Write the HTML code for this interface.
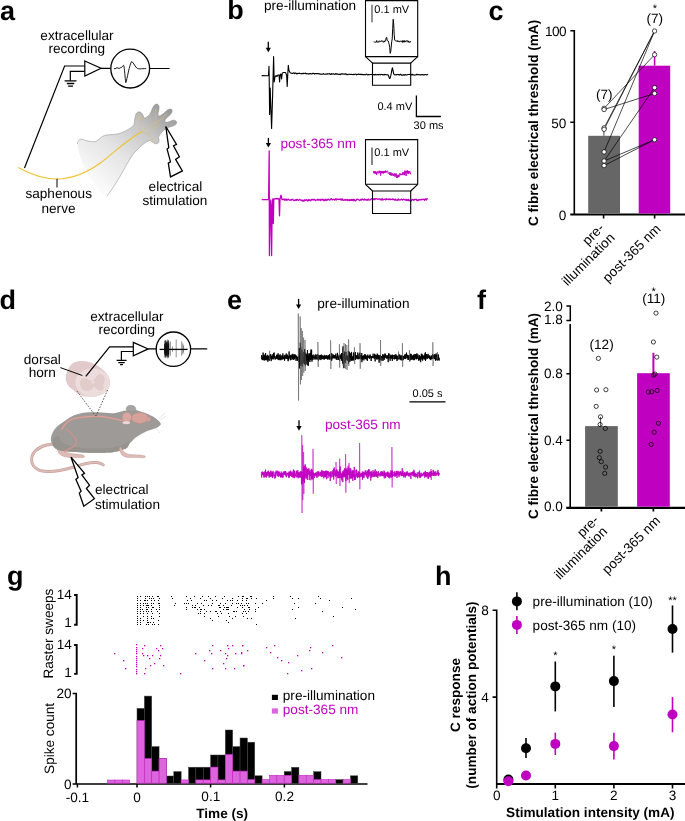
<!DOCTYPE html>
<html><head><meta charset="utf-8"><style>
html,body{margin:0;padding:0;background:#fff;}
body{width:685px;height:821px;overflow:hidden;}
svg{display:block;font-family:"Liberation Sans",sans-serif;-webkit-font-smoothing:antialiased;will-change:transform;text-rendering:geometricPrecision;}
</style></head><body>
<svg width="685" height="821" viewBox="0 0 685 821">
<text x="0.00" y="20.00" font-size="27" text-anchor="start" font-weight="bold" fill="#000" >a</text>
<text x="77.00" y="40.00" font-size="13.6" text-anchor="middle" font-weight="normal" fill="#000" >extracellular</text>
<text x="76.80" y="53.10" font-size="13.6" text-anchor="middle" font-weight="normal" fill="#000" >recording</text>
<defs>
<linearGradient id="lg" x1="100" y1="192" x2="168" y2="110" gradientUnits="userSpaceOnUse">
<stop offset="0" stop-color="#fcfcfc"/><stop offset="0.4" stop-color="#e4e4e4"/><stop offset="0.72" stop-color="#c6c6c6"/><stop offset="1" stop-color="#9a9a9a"/></linearGradient>
<linearGradient id="lg2" x1="85" y1="150" x2="110" y2="190" gradientUnits="userSpaceOnUse">
<stop offset="0" stop-color="#ffffff" stop-opacity="0"/><stop offset="1" stop-color="#ffffff" stop-opacity="0.9"/></linearGradient>
</defs>
<path d="M77.4,144 C78,140 80,138.5 83,139.5 C87,141 92,142.5 96,141.5 C99,139.5 101,136.5 106,135 C110,134.5 116,135 121.3,132.8 C126,131 130,128.7 133.8,125.2 C135,121 134.5,117 136,114 C137.5,111.5 140,111 142,113.5 C143.5,115.5 143.5,117.5 144.5,118 C146.5,117.8 149.5,115.5 151,112 C152.5,108 153.5,105 156,104.1 C158.5,103.8 159.5,106 159,109 C158.5,112 157.5,114.5 158.5,116 C160.5,116.5 164,113 166.2,111.1 C168,109.5 170,108.3 171.7,109.5 C173,111 171.5,113.5 170,115 C168,117 165,119 164.8,121 C165.5,123 168,122.5 172.3,120.3 C174.5,119.8 176.5,120.5 176.7,122.5 C176.8,124.5 174.5,125.5 172,126.3 C169,127.2 166.5,127.8 164,130 C161.5,132.5 159,135 158.5,137.5 C159.2,140 159.5,142.5 157.5,143.6 C155,144.5 152,142 150.4,140.5 C147,141 143,144 138,149 C133,153 128,162 123.4,170.6 C119,178 112,190 107,196 C100,194 93,183 88,174 C83,165 79,156 77.4,144 Z" stroke="none" stroke-width="1" fill="url(#lg)" />
<path d="M77.4,144 C78,140 80,138.5 83,139.5 C87,141 92,142.5 96,141.5 C99,139.5 101,136.5 106,135 C110,134.5 116,135 121.3,132.8 C126,131 130,128.7 133.8,125.2 C135,121 134.5,117 136,114 C137.5,111.5 140,111 142,113.5 C143.5,115.5 143.5,117.5 144.5,118 C146.5,117.8 149.5,115.5 151,112 C152.5,108 153.5,105 156,104.1 C158.5,103.8 159.5,106 159,109 C158.5,112 157.5,114.5 158.5,116 C160.5,116.5 164,113 166.2,111.1 C168,109.5 170,108.3 171.7,109.5 C173,111 171.5,113.5 170,115 C168,117 165,119 164.8,121 C165.5,123 168,122.5 172.3,120.3 C174.5,119.8 176.5,120.5 176.7,122.5 C176.8,124.5 174.5,125.5 172,126.3 C169,127.2 166.5,127.8 164,130 C161.5,132.5 159,135 158.5,137.5 C159.2,140 159.5,142.5 157.5,143.6 C155,144.5 152,142 150.4,140.5 C147,141 143,144 138,149 C133,153 128,162 123.4,170.6 C119,178 112,190 107,196" stroke="#8a8a8a" stroke-width="0.5" fill="none" />
<path d="M18.2,167.5 C30,174 45,179 57,179 C72,179 88,172 101,162.5 C110,156 116,150 121.3,146 C128,140.5 135,136 140.8,131.7" stroke="#eec232" stroke-width="1.1" fill="none" />
<path d="M140.8,131.7 C139.5,126 139.5,120 139,114.6" stroke="#dcc070" stroke-width="0.6" fill="none" />
<path d="M139.6,121 L141.5,116.5" stroke="#dcc070" stroke-width="0.6" fill="none" />
<path d="M140.8,131.7 C146,128 151,125 155.7,123.4 C160,121 163,117 167,113.8" stroke="#dcc070" stroke-width="0.6" fill="none" />
<path d="M155.7,123.4 C156,118 155.5,113 155.7,109.4" stroke="#dcc070" stroke-width="0.6" fill="none" />
<path d="M140.8,131.7 C143,132.5 146,133 148.6,133.9 C151,136.5 153,139 154.8,141.8" stroke="#dcc070" stroke-width="0.6" fill="none" />
<path d="M148.6,133.9 C152,130 156,127 160,124.3" stroke="#dcc070" stroke-width="0.6" fill="none" />
<path d="M153,139.3 L151.5,141.5" stroke="#dcc070" stroke-width="0.6" fill="none" />
<path d="M24.5,168 L64.6,66 L84.8,66" stroke="#000" stroke-width="1.2" fill="none" />
<path d="M84.8,71.4 H70.3 V80.8" stroke="#000" stroke-width="1.2" fill="none" />
<path d="M64.6,80.8 H76.5 M66.8,83.5 H74.3 M68.1,86.1 H73" stroke="#000" stroke-width="1.3" fill="none" />
<path d="M84.8,61 L101,68.3 L84.8,76 Z" stroke="#000" stroke-width="1.2" fill="#fff" />
<path d="M101,68.3 H110.6 M150,68.5 H169.6" stroke="#000" stroke-width="1.2" fill="none" />
<circle cx="130.2" cy="68.6" r="19.4" stroke="#000" stroke-width="1.3" fill="#fff"/>
<path d="M114,68.5 C115.5,70 116.5,66.5 118,68 C119.5,69.5 120.5,67 121.5,67.5 C122.5,66.5 123,64.8 123.8,65.5 C124.5,68 125,78 125.8,82.6 C127,80 129.5,64 131.6,61.6 C133,62 134.5,65.5 136.7,68 C138.5,69.5 141,68.5 146.2,68.6" stroke="#000" stroke-width="0.9" fill="none" />
<path d="M57,178.8 V187.5" stroke="#000" stroke-width="1" fill="none" />
<text x="58.70" y="198.00" font-size="13.6" text-anchor="middle" font-weight="normal" fill="#000" >saphenous</text>
<text x="58.50" y="212.70" font-size="13.6" text-anchor="middle" font-weight="normal" fill="#000" >nerve</text>
<path d="M165.8,126.5 L176.5,144.4 L173.5,145.7 L179.4,156.8 L175.6,159.4 L182.4,170.9 L170.5,176.9 L168.3,163.2 L170.5,161.9 L167.1,149.1 L168.8,147.8 Z" stroke="#000" stroke-width="1.3" fill="#fff" stroke-linejoin="miter"/>
<text x="175.40" y="191.00" font-size="13.6" text-anchor="middle" font-weight="normal" fill="#000" >electrical</text>
<text x="174.90" y="205.00" font-size="13.6" text-anchor="middle" font-weight="normal" fill="#000" >stimulation</text>
<text x="227.30" y="19.00" font-size="27" text-anchor="start" font-weight="bold" fill="#000" >b</text>
<text x="264.00" y="9.90" font-size="13.6" text-anchor="start" font-weight="normal" fill="#000" >pre-illumination</text>
<path d="M268.3,41.8 V49.3" stroke="#000" stroke-width="1.3" fill="none" />
<path d="M265.7,47.699999999999996 L270.90000000000003,47.699999999999996 L268.3,52.3 Z" stroke="none" stroke-width="1" fill="#000" />
<path d="M261.70,75.60 L267.80,75.80 L268.50,75.00 L269.00,66.30 L269.30,86.00 L269.60,114.50 L270.20,88.00 L271.60,128.50 L272.60,96.00 L273.60,56.60 L274.20,82.00 L275.00,77.00 L276.00,75.50 L277.00,76.50 L278.00,75.00 L279.00,75.00 L279.60,82.00 L280.20,74.50 L281.00,74.00 L281.60,79.00 L282.20,73.50 L283.00,72.50 L285.50,72.50 L286.60,75.00 L287.20,86.40 L287.80,74.00 L288.30,65.40 L289.00,70.50 L290.00,72.40 L290.50,73.02 L291.10,73.31 L291.70,73.16 L292.30,73.38 L292.90,73.41 L293.50,72.92 L294.10,72.88 L294.70,73.63 L295.30,73.12 L295.90,73.11 L296.50,73.81 L297.10,73.35 L297.70,73.69 L298.30,73.37 L298.90,73.53 L299.50,73.10 L300.10,73.55 L300.70,73.77 L301.30,73.47 L301.90,73.67 L302.50,73.62 L303.10,73.09 L303.70,73.72 L304.30,73.58 L304.90,73.33 L305.50,73.10 L306.10,73.86 L306.70,73.52 L307.30,73.75 L307.90,73.90 L308.50,73.77 L309.10,73.96 L309.70,73.50 L310.30,73.88 L310.90,73.57 L311.50,74.02 L312.10,73.98 L312.70,73.29 L313.30,73.33 L313.90,73.42 L314.50,74.10 L315.10,73.63 L315.70,73.82 L316.30,73.53 L316.90,73.73 L317.50,73.63 L318.10,73.61 L318.70,73.83 L319.30,73.84 L319.90,74.14 L320.50,73.95 L321.10,74.18 L321.70,74.13 L322.30,74.26 L322.90,73.98 L323.50,73.54 L324.10,74.18 L324.70,74.28 L325.30,74.24 L325.90,73.95 L326.50,74.09 L327.10,73.64 L327.70,74.21 L328.30,73.99 L328.90,73.74 L329.50,73.55 L330.10,74.28 L330.70,74.41 L331.30,73.61 L331.90,74.26 L332.50,73.92 L333.10,73.70 L333.70,73.84 L334.30,74.27 L334.90,74.38 L335.50,73.64 L336.10,74.17 L336.70,73.66 L337.30,74.28 L337.90,73.94 L338.50,74.45 L339.10,74.55 L339.70,74.13 L340.30,74.59 L340.90,73.98 L341.50,73.78 L342.10,74.26 L342.70,73.76 L343.30,73.92 L343.90,74.12 L344.50,74.31 L345.10,73.91 L345.70,73.82 L346.30,74.58 L346.90,74.09 L347.50,74.68 L348.10,74.63 L348.70,74.18 L349.30,74.26 L349.90,74.33 L350.50,74.45 L351.10,74.42 L351.70,74.39 L352.30,74.46 L352.90,74.76 L353.50,74.38 L354.10,74.32 L354.70,74.59 L355.30,74.17 L355.90,74.24 L356.50,74.86 L357.10,74.45 L357.70,74.49 L358.30,74.02 L358.90,74.39 L359.50,74.55 L360.10,74.06 L360.70,74.60 L361.30,74.63 L361.90,74.13 L362.50,74.65 L363.10,74.51 L363.70,74.71 L364.30,74.43 L364.90,74.76 L365.50,74.80 L366.10,74.17 L366.70,74.21 L367.30,74.78 L367.90,75.04 L368.50,74.41 L369.10,74.61 L369.70,74.74 L370.30,74.51 L370.90,74.56 L371.50,74.52 L372.10,74.58 L372.70,74.79 L373.30,74.52 L373.90,74.59 L374.50,74.95 L375.10,74.27 L375.70,74.76 L376.30,74.91 L376.90,74.53 L377.50,74.45 L378.10,74.97 L378.70,74.46 L379.30,74.42 L379.90,74.64 L380.50,74.88 L381.10,74.34 L381.70,74.54 L382.30,74.55 L382.90,75.00 L383.50,74.64 L384.10,75.02 L384.70,74.40 L385.30,74.55 L385.90,74.84 L386.50,74.70 L387.10,74.70 L387.70,74.77 L388.30,75.26 L388.90,76.81 L389.50,78.54 L390.10,78.10 L390.70,75.97 L391.30,73.44 L391.90,69.59 L392.50,67.79 L393.10,70.88 L393.70,73.83 L394.30,74.62 L394.90,74.70 L395.50,74.70 L396.10,74.96 L396.70,74.49 L397.30,74.56 L397.90,74.63 L398.50,74.63 L399.10,74.62 L399.70,75.08 L400.30,74.39 L400.90,74.25 L401.50,75.10 L402.10,75.04 L402.70,75.14 L403.30,74.64 L403.90,75.11 L404.50,75.08 L405.10,74.45 L405.70,74.92 L406.30,75.00 L406.90,74.85 L407.50,74.72 L408.10,74.51 L408.70,74.56 L409.30,74.45 L409.90,74.31 L410.50,74.78 L411.10,74.51 L411.70,74.98 L412.30,74.29 L412.90,75.06 L413.50,74.87 L414.10,75.08 L414.70,75.06 L415.30,75.06 L415.90,74.77 L416.50,74.26 L417.10,74.92 L417.70,74.40 L418.30,74.52 L418.90,74.85 L419.50,74.72 L420.10,74.62 L420.70,75.10 L421.30,74.80 L421.90,74.56 L422.50,74.48 L423.10,75.03 L423.70,74.68 L424.30,74.95 L424.90,74.57 L425.50,74.43 L426.10,74.73 L426.70,74.99 L427.30,74.40 L427.90,74.96" stroke="#000" stroke-width="1.1" fill="none" stroke-linejoin="round"/>
<path d="M365.5,0.6 H417.7 V56.6 H365.5 Z" stroke="#000" stroke-width="1.1" fill="none" />
<path d="M365.5,56.6 L372.5,63.1 M417.7,56.6 L410.7,63.1" stroke="#000" stroke-width="1.1" fill="none" />
<path d="M372.5,63.1 H410.7 V85.3 H372.5 Z" stroke="#000" stroke-width="1.1" fill="none" />
<path d="M372,4.7 V22.2" stroke="#666" stroke-width="1.4" fill="none" />
<text x="374.30" y="12.80" font-size="11" text-anchor="start" font-weight="normal" fill="#000" >0.1 mV</text>
<path d="M373.70,41.75 L374.20,41.98 L374.70,42.09 L375.20,42.38 L375.70,41.98 L376.20,42.34 L376.70,40.56 L377.20,41.43 L377.70,42.39 L378.20,41.80 L378.70,42.30 L379.20,40.73 L379.70,41.44 L380.20,40.99 L380.70,41.59 L381.20,41.65 L381.70,40.53 L382.20,40.93 L382.70,41.06 L383.20,42.33 L383.70,42.03 L384.20,40.82 L384.70,42.07 L385.20,40.53 L385.70,40.45 L386.20,37.71 L386.70,37.22 L387.20,40.62 L387.70,40.55 L388.20,40.92 L388.70,42.79 L389.20,44.19 L389.70,47.36 L390.20,53.37 L390.70,51.87 L391.20,47.05 L391.70,41.91 L392.20,39.04 L392.70,28.51 L393.20,19.30 L393.70,23.99 L394.20,34.47 L394.70,40.12 L395.20,40.75 L395.70,40.79 L396.20,40.63 L396.70,41.10 L397.20,41.71 L397.70,40.51 L398.20,41.86 L398.70,41.18 L399.20,41.12 L399.70,42.14 L400.20,41.46 L400.70,41.13 L401.20,41.46 L401.70,41.91 L402.20,40.61 L402.70,42.45 L403.20,40.55 L403.70,42.00 L404.20,42.19 L404.70,40.54 L405.20,42.08 L405.70,41.23 L406.20,41.66 L406.70,40.52 L407.20,40.59 L407.70,40.86 L408.20,42.41 L408.70,40.89 L409.20,42.01 L409.70,42.36 L410.20,42.38 L410.70,41.19" stroke="#000" stroke-width="1.0" fill="none" stroke-linejoin="round"/>
<text x="412.30" y="110.10" font-size="11" text-anchor="end" font-weight="normal" fill="#000" >0.4 mV</text>
<path d="M416.4,95.5 V116.5 H440.9" stroke="#000" stroke-width="1.3" fill="none" />
<text x="413.60" y="129.40" font-size="11" text-anchor="start" font-weight="normal" fill="#000" >30 ms</text>
<path d="M268.4,137.9 V144.5" stroke="#000" stroke-width="1.3" fill="none" />
<path d="M265.79999999999995,142.9 L271.0,142.9 L268.4,147.5 Z" stroke="none" stroke-width="1" fill="#000" />
<text x="280.50" y="148.40" font-size="13.6" text-anchor="start" font-weight="normal" fill="#c000c0" >post-365 nm</text>
<path d="M261.70,199.70 L268.60,199.70 L269.20,151.00 L269.40,255.60 L270.20,205.00 L270.80,200.00 L271.60,255.60 L272.20,205.00 L272.80,199.00 L273.30,223.50 L273.80,199.00 L275.00,198.80 L276.50,198.50 L279.00,199.00 L279.50,215.80 L280.00,199.00 L281.00,195.20 L282.00,199.50 L282.50,199.53 L283.10,199.41 L283.70,199.06 L284.30,200.26 L284.90,198.91 L285.50,199.73 L286.10,200.38 L286.70,199.10 L287.30,199.88 L287.90,200.00 L288.50,199.10 L289.10,199.67 L289.70,200.20 L290.30,199.82 L290.90,200.27 L291.50,199.38 L292.10,199.53 L292.70,199.34 L293.30,199.98 L293.90,200.66 L294.50,200.13 L295.10,200.43 L295.70,199.81 L296.30,200.39 L296.90,199.36 L297.50,199.66 L298.10,200.28 L298.70,200.35 L299.30,199.86 L299.90,199.32 L300.50,200.19 L301.10,200.09 L301.70,200.19 L302.30,201.02 L302.90,200.03 L303.50,201.11 L304.10,201.09 L304.70,199.75 L305.30,200.24 L305.90,200.40 L306.50,199.63 L307.10,200.25 L307.70,200.99 L308.30,199.70 L308.90,200.45 L309.50,199.66 L310.10,200.37 L310.70,200.85 L311.30,199.71 L311.90,199.37 L312.50,199.47 L313.10,200.17 L313.70,199.31 L314.30,199.39 L314.90,200.03 L315.50,200.68 L316.10,199.86 L316.70,199.80 L317.30,200.16 L317.90,199.27 L318.50,200.03 L319.10,199.36 L319.70,200.05 L320.30,200.59 L320.90,199.13 L321.50,199.92 L322.10,199.99 L322.70,199.25 L323.30,199.44 L323.90,200.60 L324.50,200.60 L325.10,199.19 L325.70,200.13 L326.30,200.52 L326.90,199.39 L327.50,199.99 L328.10,199.09 L328.70,199.62 L329.30,200.12 L329.90,200.00 L330.50,199.71 L331.10,198.62 L331.70,199.06 L332.30,199.90 L332.90,199.47 L333.50,199.28 L334.10,199.23 L334.70,200.18 L335.30,199.55 L335.90,198.68 L336.50,199.96 L337.10,199.23 L337.70,199.42 L338.30,199.10 L338.90,199.49 L339.50,199.33 L340.10,198.98 L340.70,199.87 L341.30,199.05 L341.90,200.17 L342.50,198.98 L343.10,200.21 L343.70,200.28 L344.30,199.81 L344.90,200.17 L345.50,199.45 L346.10,200.25 L346.70,199.77 L347.30,199.48 L347.90,200.67 L348.50,199.78 L349.10,199.75 L349.70,200.54 L350.30,199.77 L350.90,200.25 L351.50,199.46 L352.10,200.54 L352.70,199.61 L353.30,199.28 L353.90,200.76 L354.50,199.47 L355.10,200.71 L355.70,200.77 L356.30,200.15 L356.90,199.19 L357.50,199.26 L358.10,199.48 L358.70,199.76 L359.30,200.10 L359.90,200.65 L360.50,199.65 L361.10,199.29 L361.70,199.94 L362.30,199.24 L362.90,199.14 L363.50,199.86 L364.10,200.06 L364.70,199.03 L365.30,199.62 L365.90,200.00 L366.50,200.07 L367.10,199.43 L367.70,200.21 L368.30,199.04 L368.90,199.89 L369.50,199.95 L370.10,200.10 L370.70,199.45 L371.30,198.80 L371.90,198.69 L372.50,199.44 L373.10,198.85 L373.70,199.56 L374.30,198.66 L374.90,199.76 L375.50,198.85 L376.10,198.50 L376.70,198.74 L377.30,199.18 L377.90,199.33 L378.50,199.05 L379.10,198.69 L379.70,199.18 L380.30,199.92 L380.90,199.26 L381.50,199.91 L382.10,198.45 L382.70,199.99 L383.30,199.83 L383.90,199.28 L384.50,199.26 L385.10,199.29 L385.70,199.89 L386.30,198.56 L386.90,199.49 L387.50,199.35 L388.10,198.98 L388.70,199.67 L389.30,199.69 L389.90,198.72 L390.50,199.70 L391.10,199.32 L391.70,199.41 L392.30,199.67 L392.90,198.76 L393.50,199.66 L394.10,199.32 L394.70,200.16 L395.30,199.15 L395.90,200.12 L396.50,200.00 L397.10,199.86 L397.70,200.28 L398.30,198.97 L398.90,199.89 L399.50,199.94 L400.10,200.07 L400.70,199.66 L401.30,199.14 L401.90,199.35 L402.50,200.04 L403.10,199.38 L403.70,199.21 L404.30,199.69 L404.90,199.89 L405.50,200.01 L406.10,199.20 L406.70,200.41 L407.30,199.72 L407.90,200.44 L408.50,199.21 L409.10,200.72 L409.70,200.14 L410.30,200.76 L410.90,200.78 L411.50,200.53 L412.10,199.36 L412.70,199.74 L413.30,199.54 L413.90,200.41 L414.50,199.46 L415.10,199.49 L415.70,199.30 L416.30,199.30 L416.90,200.59 L417.50,200.63 L418.10,199.64 L418.70,200.21 L419.30,199.75 L419.90,199.82 L420.50,199.55 L421.10,199.95 L421.70,199.28 L422.30,199.29 L422.90,199.68 L423.50,199.14 L424.10,199.50 L424.70,200.28 L425.30,198.78 L425.90,198.89 L426.50,199.98 L427.10,198.76 L427.70,199.05" stroke="#c000c0" stroke-width="1.3" fill="none" stroke-linejoin="round"/>
<path d="M365.5,139.6 H417.7 V184.3 H365.5 Z" stroke="#000" stroke-width="1.1" fill="none" />
<path d="M365.5,184.3 L372.5,191 M417.7,184.3 L410.7,191" stroke="#000" stroke-width="1.1" fill="none" />
<path d="M372.5,191 H410.7 V213.5 H372.5 Z" stroke="#000" stroke-width="1.1" fill="none" />
<path d="M372,147.5 V165" stroke="#555" stroke-width="1.4" fill="none" />
<text x="374.30" y="155.50" font-size="11" text-anchor="start" font-weight="normal" fill="#000" >0.1 mV</text>
<path d="M373.50,171.24 L373.70,172.76 L373.90,173.35 L374.10,171.91 L374.30,171.14 L374.50,172.34 L374.70,172.85 L374.90,173.44 L375.10,171.24 L375.30,171.17 L375.50,173.07 L375.70,172.85 L375.90,173.86 L376.10,173.33 L376.30,172.30 L376.50,172.14 L376.70,174.84 L376.90,172.13 L377.10,171.65 L377.30,171.32 L377.50,172.49 L377.70,172.54 L377.90,172.07 L378.10,172.34 L378.30,172.66 L378.50,173.06 L378.70,173.44 L378.90,172.60 L379.10,170.69 L379.30,173.06 L379.50,171.04 L379.70,172.22 L379.90,170.98 L380.10,172.38 L380.30,171.63 L380.50,172.56 L380.70,175.48 L380.90,172.29 L381.10,173.12 L381.30,171.04 L381.50,172.00 L381.70,172.88 L381.90,172.13 L382.10,172.54 L382.30,172.24 L382.50,171.15 L382.70,172.59 L382.90,171.23 L383.10,173.72 L383.30,171.40 L383.50,172.47 L383.70,171.76 L383.90,172.60 L384.10,171.06 L384.30,172.51 L384.50,171.39 L384.70,172.65 L384.90,172.00 L385.10,171.50 L385.30,170.59 L385.50,172.04 L385.70,171.75 L385.90,172.87 L386.10,170.96 L386.30,171.87 L386.50,171.87 L386.70,171.70 L386.90,171.69 L387.10,171.73 L387.30,171.07 L387.50,170.76 L387.70,171.44 L387.90,172.48 L388.10,173.45 L388.30,173.05 L388.50,173.23 L388.70,173.08 L388.90,173.11 L389.10,172.73 L389.30,173.39 L389.50,174.45 L389.70,172.55 L389.90,172.31 L390.10,174.93 L390.30,173.40 L390.50,174.19 L390.70,174.19 L390.90,172.38 L391.10,175.86 L391.30,175.33 L391.50,173.91 L391.70,174.55 L391.90,174.05 L392.10,173.18 L392.30,174.01 L392.50,174.57 L392.70,175.37 L392.90,175.07 L393.10,174.55 L393.30,175.87 L393.50,173.95 L393.70,175.52 L393.90,175.91 L394.10,174.66 L394.30,173.31 L394.50,174.23 L394.70,175.39 L394.90,175.73 L395.10,176.77 L395.30,174.40 L395.50,175.41 L395.70,176.07 L395.90,175.34 L396.10,173.28 L396.30,176.32 L396.50,177.77 L396.70,176.55 L396.90,174.73 L397.10,175.21 L397.30,175.80 L397.50,177.94 L397.70,176.14 L397.90,175.64 L398.10,176.97 L398.30,175.38 L398.50,177.17 L398.70,174.70 L398.90,174.84 L399.10,175.92 L399.30,176.52 L399.50,175.71 L399.70,175.30 L399.90,173.20 L400.10,174.17 L400.30,174.18 L400.50,174.17 L400.70,175.14 L400.90,174.18 L401.10,175.15 L401.30,174.39 L401.50,173.91 L401.70,174.24 L401.90,174.45 L402.10,174.77 L402.30,173.41 L402.50,173.56 L402.70,172.40 L402.90,175.14 L403.10,174.92 L403.30,173.29 L403.50,172.94 L403.70,172.15 L403.90,173.41 L404.10,173.38 L404.30,175.20 L404.50,173.30 L404.70,172.28 L404.90,170.64 L405.10,174.26 L405.30,173.05 L405.50,171.30 L405.70,172.96 L405.90,171.23 L406.10,176.03 L406.30,173.75 L406.50,173.20 L406.70,172.47 L406.90,170.58 L407.10,172.47 L407.30,171.09 L407.50,173.12 L407.70,170.50 L407.90,171.66 L408.10,173.66 L408.30,174.05 L408.50,171.36 L408.70,171.01 L408.90,173.30 L409.10,173.27 L409.30,171.51 L409.50,171.78 L409.70,171.78 L409.90,171.30 L410.10,171.78 L410.30,173.61 L410.50,173.08 L410.70,174.37" stroke="#c000c0" stroke-width="1.0" fill="none" stroke-linejoin="round"/>
<text x="488.50" y="20.00" font-size="27" text-anchor="start" font-weight="bold" fill="#000" >c</text>
<path d="M570.3,30.7 H574.3 V214 M570.3,122.2 H574.3" stroke="#000" stroke-width="1.6" fill="none" />
<path d="M570.3,214.5 H685" stroke="#000" stroke-width="2" fill="none" />
<path d="M603.6,214 V218.6 M654.6,214 V218.6" stroke="#000" stroke-width="1.6" fill="none" />
<text x="566.00" y="35.50" font-size="13.6" text-anchor="end" font-weight="normal" fill="#000" letter-spacing="-0.6">100</text>
<text x="566.30" y="127.60" font-size="13.6" text-anchor="end" font-weight="normal" fill="#000" >50</text>
<text x="566.30" y="219.50" font-size="13.6" text-anchor="end" font-weight="normal" fill="#000" >0</text>
<text x="538.30" y="122.90" font-size="13.6" text-anchor="middle" font-weight="bold" fill="#000" transform="rotate(-90 538.3 122.9)" >C fibre electrical threshold (mA)</text>
<rect x="588.2" y="135.8" width="31.8" height="77.7" fill="#666"/>
<rect x="638.7" y="65.7" width="31.5" height="147.8" fill="#c000c0"/>
<path d="M654.6,65.7 V51" stroke="#c000c0" stroke-width="1.6" fill="none" />
<path d="M603.9,135.8 V128.5 M601.6,128.5 H606.2" stroke="#555" stroke-width="1.1" fill="none" />
<path d="M604.1,108.3 L654.6,54.7" stroke="#000" stroke-width="0.7" fill="none" />
<path d="M604.1,109.5 L654.6,93.5" stroke="#000" stroke-width="0.7" fill="none" />
<path d="M604.1,127.8 L654.6,31" stroke="#000" stroke-width="0.7" fill="none" />
<path d="M604.1,129.3 L654.6,31" stroke="#000" stroke-width="0.7" fill="none" />
<path d="M604.1,151.9 L654.6,31" stroke="#000" stroke-width="0.7" fill="none" />
<path d="M604.1,161 L654.6,87.6" stroke="#000" stroke-width="0.7" fill="none" />
<path d="M604.1,161 L654.6,139.7" stroke="#000" stroke-width="0.7" fill="none" />
<path d="M604.1,165.6 L654.6,139.7" stroke="#000" stroke-width="0.7" fill="none" />
<circle cx="604.1" cy="108.3" r="2.2" fill="#fff" stroke="#000" stroke-width="0.7"/>
<circle cx="604.1" cy="109.5" r="2.2" fill="#fff" stroke="#000" stroke-width="0.7"/>
<circle cx="604.1" cy="127.8" r="2.2" fill="#fff" stroke="#000" stroke-width="0.7"/>
<circle cx="604.1" cy="129.3" r="2.2" fill="#fff" stroke="#000" stroke-width="0.7"/>
<circle cx="604.1" cy="151.9" r="2.2" fill="#fff" stroke="#000" stroke-width="0.7"/>
<circle cx="604.1" cy="161" r="2.2" fill="#fff" stroke="#000" stroke-width="0.7"/>
<circle cx="604.1" cy="165.6" r="2.2" fill="#fff" stroke="#000" stroke-width="0.7"/>
<circle cx="654.6" cy="31" r="2.2" fill="#fff" stroke="#000" stroke-width="0.7"/>
<circle cx="654.6" cy="54.7" r="2.2" fill="#fff" stroke="#000" stroke-width="0.7"/>
<circle cx="654.6" cy="87.6" r="2.2" fill="#fff" stroke="#000" stroke-width="0.7"/>
<circle cx="654.6" cy="93.5" r="2.2" fill="#fff" stroke="#000" stroke-width="0.7"/>
<circle cx="654.6" cy="139.7" r="2.2" fill="#fff" stroke="#000" stroke-width="0.7"/>
<text x="604.20" y="99.00" font-size="13.6" text-anchor="middle" font-weight="normal" fill="#000" >(7)</text>
<text x="654.80" y="23.00" font-size="13.6" text-anchor="middle" font-weight="normal" fill="#000" >(7)</text>
<text x="654.80" y="12.00" font-size="11" text-anchor="middle" font-weight="normal" fill="#000" >*</text>
<text x="0.00" y="0.00" font-size="13.6" text-anchor="end" font-weight="normal" fill="#000" transform="translate(604.9,228.9) rotate(-45)" >pre-</text>
<text x="0.00" y="0.00" font-size="13.6" text-anchor="end" font-weight="normal" fill="#000" transform="translate(615.5,238.5) rotate(-45)" >illumination</text>
<text x="0.00" y="0.00" font-size="13.6" text-anchor="end" font-weight="normal" fill="#000" transform="translate(661.4,229.7) rotate(-45)" >post-365 nm</text>
<text x="-0.50" y="308.50" font-size="27" text-anchor="start" font-weight="bold" fill="#000" >d</text>
<text x="126.90" y="321.30" font-size="13.6" text-anchor="middle" font-weight="normal" fill="#000" >extracellular</text>
<text x="126.80" y="334.40" font-size="13.6" text-anchor="middle" font-weight="normal" fill="#000" >recording</text>
<text x="42.30" y="363.70" font-size="13.6" text-anchor="middle" font-weight="normal" fill="#000" >dorsal</text>
<text x="42.30" y="377.20" font-size="13.6" text-anchor="middle" font-weight="normal" fill="#000" >horn</text>
<path d="M66.00,375.10 C66.80,371.75 69.38,366.15 72.00,363.80 C74.62,361.45 78.35,361.13 81.70,361.00 C85.05,360.87 88.75,361.72 92.10,363.00 C95.45,364.28 99.12,366.55 101.80,368.70 C104.48,370.85 106.80,373.50 108.20,375.90 C109.60,378.30 110.33,380.70 110.20,383.10 C110.07,385.50 109.07,388.28 107.40,390.30 C105.73,392.32 103.02,394.12 100.20,395.20 C97.38,396.28 93.72,396.80 90.50,396.80 C87.28,396.80 83.70,396.28 80.90,395.20 C78.10,394.12 75.98,392.18 73.70,390.30 C71.42,388.42 68.48,386.43 67.20,383.90 C65.92,381.37 65.20,378.45 66.00,375.10 Z" stroke="none" stroke-width="1" fill="#e2caca" />
<ellipse cx="92.6" cy="382.6" rx="17.3" ry="14.1" fill="#eddcdc"/>
<path d="M80,383 C80,379 83,377.5 86,378.5 C88.5,379.5 90.5,381 92.5,381 C94,380 95.5,377 97.5,375 C100,373.5 103.5,374.5 104.5,377.5 C105.5,380 104.5,383 103,385 C104.5,387 104,390 101,390.5 C98.5,391 96.5,389 95,387.5 L94,387.5 C92,389 90,391 87,391 C83,391 80,387.5 80,383 Z" stroke="none" stroke-width="1" fill="#e2cbcb" />
<path d="M93.9,387 V396" stroke="#eee0e0" stroke-width="1.1" fill="none" />
<ellipse cx="93" cy="382.3" rx="1.6" ry="1.4" fill="#ecdcdc"/>
<path d="M60.4,367.6 L82.3,375.5" stroke="#000" stroke-width="1" fill="none" />
<path d="M85.8,376.4 L109.6,346.8 H133.3" stroke="#000" stroke-width="1.2" fill="none" />
<path d="M133.3,351.5 H121.4 V360.3" stroke="#000" stroke-width="1.2" fill="none" />
<path d="M116.6,360.3 H126.6 M118.3,362.6 H124.7 M120.1,364.7 H122.9" stroke="#000" stroke-width="1.2" fill="none" />
<path d="M133.3,342.4 L148.2,348.9 L133.3,355.9 Z" stroke="#000" stroke-width="1.2" fill="#fff" />
<path d="M148.2,348.9 H156.1 M190.7,348.9 H207.2" stroke="#000" stroke-width="1.2" fill="none" />
<circle cx="173.4" cy="349.2" r="17.2" stroke="#000" stroke-width="1.3" fill="#fff"/>
<path d="M159.6,349.4 H187.6" stroke="#000" stroke-width="1.3" fill="none" />
<path d="M165.19,341.57 V356.45 M167.17,343.05 V355.12 M165.41,340.85 V357.09 M167.89,342.81 V355.33 M166.62,344.75 V353.59 M164.51,343.80 V354.44 M166.96,345.92 V352.54 M167.83,344.77 V353.56 M165.48,346.10 V352.37 M168.69,341.23 V356.75 M168.18,342.09 V355.98 M164.64,344.10 V354.17 M166.59,345.59 V352.83 M168.50,343.82 V354.42 M165.15,340.68 V357.25 M165.02,339.90 V357.95 M166.40,342.54 V355.58 M165.94,343.01 V355.15 M165.29,346.14 V352.33 M168.14,344.76 V353.58 M167.78,344.94 V353.41 M168.57,340.14 V357.73 M167.67,341.06 V356.91 M166.94,341.29 V356.70 M165.01,343.07 V355.10 M167.97,344.99 V353.37 M168.38,340.19 V357.69 M166.22,343.84 V354.40 M166.40,343.70 V354.53 M168.68,343.69 V354.54 M164.61,345.75 V352.69 M167.52,339.45 V358.35 M166.58,342.96 V355.20 M166.81,341.16 V356.81 M165.43,342.14 V355.94 M166.84,342.04 V356.02 M165.26,345.21 V353.17 M165.96,339.91 V357.94 M165.96,342.22 V355.86 M165.79,345.68 V352.75 M170.4,341.4 V355.79999999999995 M176.2,339.4 V357.4 M181.7,341.4 V355.79999999999995 M182.8,343.4 V354.2 M183.5,345.4 V352.59999999999997 M168.8,343.4 V354.2 M172.5,346.4 V351.79999999999995" stroke="#111" stroke-width="0.45" fill="none" />
<path d="M54,444 C45,444.5 36,448 32.5,455 C30,462 33,468 40,470.5 C50,473 62,470.5 72,467.5 C82,464 90,462 97,462.5 C100,463 102,464 103.2,464.9" stroke="#c9a29d" stroke-width="3.0" fill="none" stroke-linecap="round"/>
<path d="M54,444 C45,444.5 36,448 32.5,455 C30,462 33,468 40,470.5 C50,473 62,470.5 72,467.5 C82,464 90,462 97,462.5 C100,463 102,464 103.2,464.9" stroke="#dcbdb8" stroke-width="1.6" fill="none" stroke-linecap="round"/>
<path d="M57.50,445.00 C58.12,444.50 60.58,447.83 62.00,449.00 C63.42,450.17 64.50,451.25 66.00,452.00 C67.50,452.75 69.00,453.12 71.00,453.50 C73.00,453.88 75.92,454.00 78.00,454.30 C80.08,454.60 82.53,454.78 83.50,455.30 C84.47,455.82 85.05,457.02 83.80,457.40 C82.55,457.78 78.63,457.63 76.00,457.60 C73.37,457.57 70.33,457.52 68.00,457.20 C65.67,456.88 63.62,456.57 62.00,455.70 C60.38,454.83 59.05,453.78 58.30,452.00 C57.55,450.22 56.88,445.50 57.50,445.00 Z" stroke="#c49c97" stroke-width="0.5" fill="#dcbab5" />
<path d="M52.00,444.00 C51.27,442.10 50.52,439.62 51.10,437.00 C51.68,434.38 53.30,430.92 55.50,428.30 C57.70,425.68 61.08,423.50 64.30,421.30 C67.52,419.10 71.30,416.57 74.80,415.10 C78.30,413.63 81.50,412.97 85.30,412.50 C89.10,412.03 93.22,412.18 97.60,412.30 C101.98,412.42 108.10,413.22 111.60,413.20 C115.10,413.18 116.27,412.63 118.60,412.20 C120.93,411.77 123.53,411.00 125.60,410.60 C127.67,410.20 129.25,409.92 131.00,409.80 C132.75,409.68 134.08,409.48 136.10,409.90 C138.12,410.32 140.47,411.28 143.10,412.30 C145.73,413.32 149.57,414.80 151.90,416.00 C154.23,417.20 155.62,418.18 157.10,419.50 C158.58,420.82 160.80,422.58 160.80,423.90 C160.80,425.22 158.88,426.38 157.10,427.40 C155.32,428.42 152.43,429.08 150.10,430.00 C147.77,430.92 145.43,431.70 143.10,432.90 C140.77,434.10 138.27,435.52 136.10,437.20 C133.93,438.88 131.57,441.27 130.10,443.00 C128.63,444.73 128.55,446.47 127.30,447.60 C126.05,448.73 124.38,449.15 122.60,449.80 C120.82,450.45 118.93,451.03 116.60,451.50 C114.27,451.97 111.77,452.38 108.60,452.60 C105.43,452.82 102.37,452.87 97.60,452.80 C92.83,452.73 85.55,452.48 80.00,452.20 C74.45,451.92 68.38,451.73 64.30,451.10 C60.22,450.47 57.55,449.58 55.50,448.40 C53.45,447.22 52.73,445.90 52.00,444.00 Z" stroke="none" stroke-width="1" fill="#9d9a97" />
<path d="M53.00,440.00 C53.42,437.93 56.50,435.67 58.00,436.00 C59.50,436.33 59.67,440.25 62.00,442.00 C64.33,443.75 67.33,445.42 72.00,446.50 C76.67,447.58 84.00,448.25 90.00,448.50 C96.00,448.75 102.67,448.58 108.00,448.00 C113.33,447.42 118.50,446.17 122.00,445.00 C125.50,443.83 128.12,440.57 129.00,441.00 C129.88,441.43 128.37,446.13 127.30,447.60 C126.23,449.07 124.38,449.15 122.60,449.80 C120.82,450.45 118.93,451.03 116.60,451.50 C114.27,451.97 111.77,452.38 108.60,452.60 C105.43,452.82 102.37,452.87 97.60,452.80 C92.83,452.73 85.55,452.48 80.00,452.20 C74.45,451.92 68.38,451.73 64.30,451.10 C60.22,450.47 57.38,450.25 55.50,448.40 C53.62,446.55 52.58,442.07 53.00,440.00 Z" stroke="none" stroke-width="1" fill="#96938f" />
<path d="M120.30,447.00 C120.83,447.08 121.88,449.87 123.00,451.00 C124.12,452.13 125.33,453.17 127.00,453.80 C128.67,454.43 130.83,454.60 133.00,454.80 C135.17,455.00 138.03,454.80 140.00,455.00 C141.97,455.20 144.10,455.55 144.80,456.00 C145.50,456.45 145.83,457.43 144.20,457.70 C142.57,457.97 137.87,457.67 135.00,457.60 C132.13,457.53 129.17,457.73 127.00,457.30 C124.83,456.87 123.20,456.13 122.00,455.00 C120.80,453.87 120.08,451.83 119.80,450.50 C119.52,449.17 119.77,446.92 120.30,447.00 Z" stroke="#c49c97" stroke-width="0.5" fill="#dcbab5" />
<path d="M126.20,409.50 C125.78,408.67 126.73,407.00 127.50,406.30 C128.27,405.60 129.68,405.32 130.80,405.30 C131.92,405.28 133.35,405.65 134.20,406.20 C135.05,406.75 135.85,407.83 135.90,408.60 C135.95,409.37 135.48,410.35 134.50,410.80 C133.52,411.25 131.38,411.52 130.00,411.30 C128.62,411.08 126.62,410.33 126.20,409.50 Z" stroke="#8a8884" stroke-width="0.4" fill="#a6a4a1" />
<path d="M61.6,429.5 C64,425 67,421.5 72,419.2 C78,417.3 86,416.6 97.6,416.1 C104,416.2 110,418 116,419.3 C119,420 121,420.4 123,420.4" stroke="#cf928c" stroke-width="1.9" fill="none" />
<path d="M61.6,429.5 C64,425 67,421.5 72,419.2 C78,417.3 86,416.6 97.6,416.1 C104,416.2 110,418 116,419.3 C119,420 121,420.4 123,420.4" stroke="#deb0aa" stroke-width="0.6" fill="none" />
<path d="M65.5,428 C68,431 73,434 76.2,439.5 C77.5,443 75.5,446 71,448 C68,449.3 66,450.2 64,451.5" stroke="#cf928c" stroke-width="1.5" fill="none" opacity="0.85"/>
<ellipse cx="139.8" cy="418" rx="8.4" ry="5.4" fill="#d7a19b" stroke="#c48b85" stroke-width="0.4"/>
<ellipse cx="126.8" cy="417.3" rx="4.6" ry="4.9" fill="#d9a7a1" stroke="#c48b85" stroke-width="0.4"/>
<ellipse cx="148.3" cy="419.3" rx="2.4" ry="2.3" fill="#d49c96"/>
<ellipse cx="126.3" cy="422.6" rx="3.9" ry="1.6" fill="#ecd6d3"/>
<path d="M76.9,391.1 L95.5,415.8 M107.6,390 L96.2,415.8" stroke="#333" stroke-width="0.8" fill="none" stroke-dasharray="1.6,1.4"/>
<path d="M158.5,419 L165,413 M159.5,420.5 L166,416 M156,428 L160,433" stroke="#c8c8c8" stroke-width="0.4" fill="none" />
<path d="M71,457.2 L84.5,473.4 L81.9,474.9 L89.5,485.1 L86.4,488.5 L94.4,498.7 L83.8,506.3 L79.3,493.1 L81.1,491.2 L75.9,479.5 L78.1,477.6 Z" stroke="#000" stroke-width="1.3" fill="#fff" />
<text x="95.00" y="494.00" font-size="13.6" text-anchor="start" font-weight="normal" fill="#000" >electrical</text>
<text x="95.00" y="508.70" font-size="13.6" text-anchor="start" font-weight="normal" fill="#000" >stimulation</text>
<text x="227.00" y="309.00" font-size="27" text-anchor="start" font-weight="bold" fill="#000" >e</text>
<path d="M298.6,298.9 V306.1" stroke="#000" stroke-width="1.3" fill="none" />
<path d="M296.0,304.5 L301.20000000000005,304.5 L298.6,309.1 Z" stroke="none" stroke-width="1" fill="#000" />
<text x="317.30" y="307.70" font-size="13.6" text-anchor="start" font-weight="normal" fill="#000" >pre-illumination</text>
<path d="M299,420.2 V427.7" stroke="#000" stroke-width="1.3" fill="none" />
<path d="M296.4,426.09999999999997 L301.6,426.09999999999997 L299,430.7 Z" stroke="none" stroke-width="1" fill="#000" />
<text x="325.00" y="428.90" font-size="13.6" text-anchor="start" font-weight="normal" fill="#c000c0" >post-365 nm</text>
<path d="M261.30,358.10 L261.43,357.36 L261.56,355.34 L261.69,358.86 L261.82,357.82 L261.95,357.92 L262.08,357.62 L262.21,360.06 L262.34,358.93 L262.47,359.47 L262.60,356.83 L262.73,356.54 L262.86,355.55 L262.99,356.90 L263.12,352.59 L263.25,360.19 L263.38,357.58 L263.51,357.48 L263.64,358.86 L263.77,356.68 L263.90,357.77 L264.03,358.70 L264.16,354.58 L264.29,360.39 L264.42,357.58 L264.55,358.42 L264.68,355.51 L264.81,356.24 L264.94,360.32 L265.07,356.40 L265.20,356.61 L265.33,358.18 L265.46,359.86 L265.59,353.06 L265.72,359.94 L265.85,357.81 L265.98,358.92 L266.11,355.54 L266.24,357.88 L266.37,360.19 L266.50,357.16 L266.63,356.23 L266.76,356.57 L266.89,356.40 L267.02,358.74 L267.15,357.68 L267.28,356.46 L267.41,358.73 L267.54,355.40 L267.67,354.80 L267.80,361.68 L267.93,356.21 L268.06,360.21 L268.19,357.18 L268.32,356.94 L268.45,358.26 L268.58,355.82 L268.71,355.85 L268.84,356.97 L268.97,356.65 L269.10,358.61 L269.23,360.78 L269.36,355.25 L269.49,355.79 L269.62,358.67 L269.75,358.24 L269.88,359.32 L270.01,356.02 L270.14,358.39 L270.27,357.24 L270.40,354.46 L270.53,358.13 L270.66,354.56 L270.79,358.29 L270.92,356.53 L271.05,356.99 L271.18,361.13 L271.31,360.04 L271.44,358.09 L271.57,358.04 L271.70,355.97 L271.83,359.54 L271.96,358.44 L272.09,355.81 L272.22,354.39 L272.35,357.33 L272.48,357.02 L272.61,358.87 L272.74,355.52 L272.87,355.77 L273.00,358.08 L273.13,357.49 L273.26,359.02 L273.39,359.32 L273.52,355.74 L273.65,353.14 L273.78,357.44 L273.91,356.04 L274.04,357.77 L274.17,352.54 L274.30,357.16 L274.43,357.50 L274.56,356.35 L274.69,358.25 L274.82,357.52 L274.95,357.75 L275.08,359.64 L275.21,359.63 L275.34,359.47 L275.47,358.00 L275.60,357.59 L275.73,358.34 L275.86,357.90 L275.99,356.04 L276.12,358.03 L276.25,358.96 L276.38,356.62 L276.51,355.41 L276.64,358.36 L276.77,356.01 L276.90,354.71 L277.03,356.91 L277.16,354.75 L277.29,357.93 L277.42,356.44 L277.55,357.48 L277.68,359.36 L277.81,359.32 L277.94,357.17 L278.07,353.36 L278.20,356.50 L278.33,355.28 L278.46,358.92 L278.59,360.09 L278.72,358.57 L278.85,358.48 L278.98,358.32 L279.11,358.55 L279.24,356.69 L279.37,358.93 L279.50,356.80 L279.63,355.30 L279.76,357.43 L279.89,360.16 L280.02,357.01 L280.15,354.22 L280.28,359.53 L280.41,357.77 L280.54,358.31 L280.67,356.52 L280.80,358.20 L280.93,360.19 L281.06,356.20 L281.19,358.56 L281.32,357.97 L281.45,355.82 L281.58,357.66 L281.71,358.39 L281.84,355.86 L281.97,359.41 L282.10,355.38 L282.23,359.39 L282.36,358.44 L282.49,357.80 L282.62,355.97 L282.75,355.97 L282.88,353.44 L283.01,357.30 L283.14,357.12 L283.27,358.33 L283.40,359.15 L283.53,357.70 L283.66,356.75 L283.79,359.09 L283.92,357.33 L284.05,357.30 L284.18,355.28 L284.31,359.21 L284.44,356.16 L284.57,360.76 L284.70,355.83 L284.83,356.50 L284.96,357.50 L285.09,356.12 L285.22,354.78 L285.35,355.34 L285.48,355.90 L285.61,356.93 L285.74,359.08 L285.87,358.52 L286.00,357.91 L286.13,358.77 L286.26,353.51 L286.39,356.27 L286.52,356.38 L286.65,355.53 L286.78,358.19 L286.91,356.20 L287.04,355.41 L287.17,358.91 L287.30,356.20 L287.43,356.91 L287.56,354.70 L287.69,358.94 L287.82,357.42 L287.95,359.88 L288.08,361.22 L288.21,358.52 L288.34,356.71 L288.47,355.96 L288.60,360.23 L288.73,356.99 L288.86,358.45 L288.99,357.77 L289.12,351.44 L289.25,357.61 L289.38,357.63 L289.51,357.70 L289.64,357.11 L289.77,357.76 L289.90,355.57 L290.03,358.41 L290.16,356.45 L290.29,357.63 L290.42,360.24 L290.55,357.73 L290.68,355.55 L290.81,357.99 L290.94,354.81 L291.07,357.65 L291.20,359.81 L291.33,355.49 L291.46,357.09 L291.59,355.81 L291.72,357.65 L291.85,357.92 L291.98,357.66 L292.11,356.86 L292.24,354.02 L292.37,355.77 L292.50,356.58 L292.63,358.77 L292.76,353.85 L292.89,359.25 L293.02,356.03 L293.15,354.41 L293.28,359.89 L293.41,357.95 L293.54,355.71 L293.67,357.81 L293.80,358.39 L293.93,354.84 L294.06,359.59 L294.19,355.86 L294.32,358.77 L294.45,356.37 L294.58,354.59 L294.71,356.30 L294.84,356.44 L294.97,357.56 L295.10,354.43 L295.23,355.59 L295.36,357.89 L295.49,356.68 L295.62,356.43 L295.75,358.11 L295.88,355.04 L296.01,360.81 L296.14,356.04 L296.27,357.98 L296.40,357.05 L296.53,359.06 L296.66,356.57 L296.79,355.98 L296.92,357.76 L297.05,358.39 L297.18,357.08 L297.31,360.88 L297.44,358.64 L297.57,359.72 L297.70,359.55 L297.83,359.12 L297.96,357.01 L298.09,360.16 L298.22,356.69 L298.35,357.58 L298.48,359.75 L298.61,358.96 L298.74,355.46 L298.87,362.08 L299.00,360.89 L299.13,348.87 L299.26,348.05 L299.39,367.09 L299.52,368.39 L299.65,358.36 L299.78,353.13 L299.91,355.44 L300.04,364.93 L300.17,361.82 L300.30,342.66 L300.43,354.39 L300.56,365.84 L300.69,362.44 L300.82,346.96 L300.95,354.06 L301.08,363.09 L301.21,363.76 L301.34,358.52 L301.47,358.44 L301.60,364.71 L301.73,358.09 L301.86,354.74 L301.99,349.77 L302.12,361.26 L302.25,366.58 L302.38,353.30 L302.51,359.50 L302.64,360.62 L302.77,357.73 L302.90,363.66 L303.03,357.37 L303.16,356.19 L303.29,361.36 L303.42,362.65 L303.55,356.18 L303.68,352.00 L303.81,361.12 L303.94,362.75 L304.07,356.03 L304.20,352.64 L304.33,351.42 L304.46,364.37 L304.59,353.53 L304.72,348.97 L304.85,360.03 L304.98,360.31 L305.11,358.48 L305.24,352.52 L305.37,355.51 L305.50,365.79 L305.63,363.08 L305.76,354.12 L305.89,357.46 L306.02,359.78 L306.15,364.42 L306.28,359.33 L306.41,354.75 L306.54,354.72 L306.67,360.47 L306.80,353.65 L306.93,355.28 L307.06,356.23 L307.19,359.69 L307.32,355.00 L307.45,350.12 L307.58,357.03 L307.71,358.53 L307.84,365.13 L307.97,356.19 L308.10,355.55 L308.23,365.96 L308.36,356.64 L308.49,360.86 L308.62,359.73 L308.75,361.07 L308.88,353.40 L309.01,360.46 L309.14,358.96 L309.27,356.84 L309.40,354.84 L309.53,353.56 L309.66,357.17 L309.79,358.17 L309.92,362.02 L310.05,355.40 L310.18,356.22 L310.31,356.21 L310.44,359.99 L310.57,355.34 L310.70,353.19 L310.83,358.21 L310.96,349.59 L311.09,360.02 L311.22,352.44 L311.35,358.31 L311.48,358.40 L311.61,349.71 L311.74,358.74 L311.87,359.94 L312.00,361.58 L312.13,356.60 L312.26,354.93 L312.39,359.75 L312.52,358.23 L312.65,358.16 L312.78,359.53 L312.91,358.33 L313.04,355.90 L313.17,357.42 L313.30,356.13 L313.43,357.77 L313.56,356.59 L313.69,354.60 L313.82,354.85 L313.95,359.55 L314.08,359.35 L314.21,357.89 L314.34,357.77 L314.47,357.98 L314.60,356.64 L314.73,357.05 L314.86,358.09 L314.99,357.70 L315.12,355.08 L315.25,359.48 L315.38,357.10 L315.51,358.12 L315.64,357.64 L315.77,354.28 L315.90,357.82 L316.03,357.29 L316.16,358.20 L316.29,358.81 L316.42,359.35 L316.55,357.19 L316.68,358.17 L316.81,356.51 L316.94,354.83 L317.07,357.76 L317.20,357.59 L317.33,359.28 L317.46,358.68 L317.59,354.60 L317.72,356.28 L317.85,354.37 L317.98,359.55 L318.11,357.24 L318.24,357.31 L318.37,358.47 L318.50,360.77 L318.63,358.59 L318.76,355.28 L318.89,356.33 L319.02,359.06 L319.15,355.49 L319.28,355.59 L319.41,358.67 L319.54,358.40 L319.67,357.92 L319.80,355.67 L319.93,359.74 L320.06,356.11 L320.19,355.39 L320.32,356.09 L320.45,358.24 L320.58,356.90 L320.71,357.65 L320.84,354.98 L320.97,360.08 L321.10,357.80 L321.23,356.15 L321.36,354.57 L321.49,357.32 L321.62,357.78 L321.75,358.77 L321.88,356.39 L322.01,356.75 L322.14,357.57 L322.27,357.13 L322.40,359.10 L322.53,355.63 L322.66,356.21 L322.79,358.12 L322.92,359.06 L323.05,355.38 L323.18,357.65 L323.31,358.70 L323.44,359.24 L323.57,358.58 L323.70,356.02 L323.83,357.97 L323.96,356.94 L324.09,356.09 L324.22,359.15 L324.35,359.59 L324.48,359.57 L324.61,355.35 L324.74,354.85 L324.87,356.36 L325.00,357.60 L325.13,356.95 L325.26,356.83 L325.39,358.77 L325.52,357.14 L325.65,355.81 L325.78,357.41 L325.91,356.03 L326.04,358.96 L326.17,356.72 L326.30,355.34 L326.43,356.05 L326.56,358.22 L326.69,355.39 L326.82,357.73 L326.95,359.03 L327.08,356.71 L327.21,357.05 L327.34,357.97 L327.47,356.06 L327.60,358.70 L327.73,356.54 L327.86,359.82 L327.99,356.50 L328.12,355.29 L328.25,358.90 L328.38,357.99 L328.51,357.30 L328.64,356.07 L328.77,356.59 L328.90,355.15 L329.03,358.72 L329.16,355.06 L329.29,357.68 L329.42,357.14 L329.55,354.17 L329.68,359.74 L329.81,359.21 L329.94,357.25 L330.07,356.12 L330.20,358.23 L330.33,357.84 L330.46,359.12 L330.59,358.44 L330.72,359.20 L330.85,357.24 L330.98,357.14 L331.11,358.29 L331.24,359.34 L331.37,356.95 L331.50,357.57 L331.63,360.92 L331.76,353.15 L331.89,359.64 L332.02,356.04 L332.15,357.21 L332.28,357.42 L332.41,357.58 L332.54,357.88 L332.67,355.95 L332.80,356.87 L332.93,354.16 L333.06,355.69 L333.19,358.44 L333.32,356.88 L333.45,354.97 L333.58,356.59 L333.71,358.13 L333.84,357.23 L333.97,357.63 L334.10,355.74 L334.23,355.53 L334.36,357.56 L334.49,355.54 L334.62,357.06 L334.75,355.20 L334.88,358.55 L335.01,355.63 L335.14,356.26 L335.27,355.32 L335.40,357.49 L335.53,357.93 L335.66,358.38 L335.79,355.01 L335.92,353.66 L336.05,357.06 L336.18,358.41 L336.31,359.74 L336.44,356.52 L336.57,357.28 L336.70,357.56 L336.83,357.57 L336.96,358.36 L337.09,359.95 L337.22,356.79 L337.35,357.37 L337.48,352.87 L337.61,357.47 L337.74,357.62 L337.87,355.94 L338.00,355.73 L338.13,357.46 L338.26,357.58 L338.39,359.70 L338.52,359.15 L338.65,357.57 L338.78,359.79 L338.91,356.08 L339.04,355.57 L339.17,354.71 L339.30,358.55 L339.43,356.91 L339.56,360.59 L339.69,356.14 L339.82,356.41 L339.95,357.33 L340.08,355.41 L340.21,356.90 L340.34,358.54 L340.47,357.27 L340.60,356.75 L340.73,354.57 L340.86,356.21 L340.99,356.50 L341.12,358.99 L341.25,356.18 L341.38,360.78 L341.51,353.00 L341.64,356.45 L341.77,357.13 L341.90,357.16 L342.03,358.27 L342.16,358.27 L342.29,359.58 L342.42,353.03 L342.55,357.24 L342.68,363.56 L342.81,355.63 L342.94,346.68 L343.07,360.87 L343.20,356.41 L343.33,364.42 L343.46,354.22 L343.59,356.11 L343.72,362.53 L343.85,368.17 L343.98,359.25 L344.11,354.00 L344.24,361.76 L344.37,360.13 L344.50,356.66 L344.63,351.65 L344.76,355.18 L344.89,357.68 L345.02,358.95 L345.15,363.13 L345.28,355.15 L345.41,352.05 L345.54,361.51 L345.67,360.49 L345.80,356.55 L345.93,353.17 L346.06,352.09 L346.19,355.51 L346.32,357.07 L346.45,358.60 L346.58,357.53 L346.71,357.28 L346.84,360.02 L346.97,357.36 L347.10,355.29 L347.23,359.74 L347.36,359.66 L347.49,360.75 L347.62,356.78 L347.75,358.88 L347.88,358.24 L348.01,356.35 L348.14,360.83 L348.27,352.75 L348.40,350.81 L348.53,363.64 L348.66,361.69 L348.79,359.35 L348.92,360.15 L349.05,353.89 L349.18,360.62 L349.31,358.45 L349.44,356.27 L349.57,351.75 L349.70,354.22 L349.83,362.00 L349.96,355.37 L350.09,355.60 L350.22,353.25 L350.35,355.58 L350.48,355.92 L350.61,353.80 L350.74,360.06 L350.87,360.55 L351.00,353.95 L351.13,358.42 L351.26,356.21 L351.39,354.83 L351.52,351.92 L351.65,353.03 L351.78,360.61 L351.91,357.75 L352.04,360.67 L352.17,357.30 L352.30,357.29 L352.43,360.18 L352.56,358.75 L352.69,356.43 L352.82,355.99 L352.95,356.88 L353.08,358.35 L353.21,357.28 L353.34,355.79 L353.47,352.53 L353.60,360.48 L353.73,356.79 L353.86,353.74 L353.99,358.87 L354.12,358.38 L354.25,355.95 L354.38,356.26 L354.51,358.34 L354.64,356.33 L354.77,359.22 L354.90,353.70 L355.03,359.39 L355.16,359.55 L355.29,357.31 L355.42,352.04 L355.55,359.75 L355.68,359.91 L355.81,357.23 L355.94,357.09 L356.07,355.70 L356.20,356.91 L356.33,356.13 L356.46,358.16 L356.59,355.32 L356.72,357.43 L356.85,358.43 L356.98,356.14 L357.11,358.28 L357.24,356.36 L357.37,355.72 L357.50,358.73 L357.63,357.61 L357.76,352.52 L357.89,358.74 L358.02,359.34 L358.15,356.28 L358.28,358.22 L358.41,357.09 L358.54,357.56 L358.67,358.21 L358.80,357.25 L358.93,358.64 L359.06,353.96 L359.19,356.44 L359.32,356.42 L359.45,358.46 L359.58,353.34 L359.71,358.01 L359.84,352.62 L359.97,357.11 L360.10,356.56 L360.23,359.25 L360.36,355.49 L360.49,355.39 L360.62,357.73 L360.75,356.59 L360.88,357.51 L361.01,358.05 L361.14,357.59 L361.27,355.40 L361.40,356.85 L361.53,357.32 L361.66,358.67 L361.79,353.13 L361.92,362.19 L362.05,357.73 L362.18,356.48 L362.31,357.38 L362.44,359.82 L362.57,357.77 L362.70,357.83 L362.83,355.69 L362.96,357.39 L363.09,357.21 L363.22,357.96 L363.35,356.59 L363.48,357.88 L363.61,358.67 L363.74,355.59 L363.87,360.39 L364.00,355.55 L364.13,357.25 L364.26,357.96 L364.39,355.68 L364.52,356.73 L364.65,358.71 L364.78,354.16 L364.91,355.51 L365.04,357.62 L365.17,357.14 L365.30,355.59 L365.43,359.20 L365.56,354.61 L365.69,357.37 L365.82,357.77 L365.95,357.11 L366.08,356.90 L366.21,356.14 L366.34,356.69 L366.47,356.42 L366.60,359.33 L366.73,359.77 L366.86,355.98 L366.99,355.35 L367.12,356.16 L367.25,357.84 L367.38,361.01 L367.51,358.85 L367.64,358.04 L367.77,354.64 L367.90,357.53 L368.03,357.42 L368.16,356.56 L368.29,357.46 L368.42,356.23 L368.55,356.38 L368.68,357.47 L368.81,356.33 L368.94,355.60 L369.07,357.31 L369.20,357.46 L369.33,358.77 L369.46,357.81 L369.59,358.60 L369.72,355.76 L369.85,357.88 L369.98,355.48 L370.11,354.44 L370.24,356.20 L370.37,357.27 L370.50,356.36 L370.63,357.24 L370.76,357.46 L370.89,357.06 L371.02,356.54 L371.15,361.00 L371.28,355.98 L371.41,356.56 L371.54,358.31 L371.67,357.53 L371.80,357.64 L371.93,356.74 L372.06,356.97 L372.19,356.37 L372.32,357.34 L372.45,356.49 L372.58,358.05 L372.71,358.09 L372.84,357.60 L372.97,357.21 L373.10,353.73 L373.23,357.81 L373.36,357.17 L373.49,357.04 L373.62,356.56 L373.75,356.09 L373.88,357.46 L374.01,358.17 L374.14,358.90 L374.27,358.69 L374.40,357.43 L374.53,353.76 L374.66,356.15 L374.79,355.95 L374.92,358.16 L375.05,356.78 L375.18,361.45 L375.31,355.13 L375.44,354.66 L375.57,356.62 L375.70,355.41 L375.83,355.58 L375.96,356.23 L376.09,355.01 L376.22,356.46 L376.35,355.60 L376.48,357.86 L376.61,358.68 L376.74,356.14 L376.87,359.53 L377.00,358.99 L377.13,359.19 L377.26,353.62 L377.39,357.95 L377.52,354.88 L377.65,358.58 L377.78,357.86 L377.91,358.02 L378.04,359.13 L378.17,354.85 L378.30,357.36 L378.43,359.02 L378.56,357.36 L378.69,356.62 L378.82,356.26 L378.95,354.98 L379.08,362.69 L379.21,355.57 L379.34,357.43 L379.47,356.49 L379.60,357.70 L379.73,356.41 L379.86,356.75 L379.99,360.28 L380.12,355.57 L380.25,357.36 L380.38,359.71 L380.51,355.19 L380.64,356.36 L380.77,360.30 L380.90,359.80 L381.03,357.17 L381.16,357.67 L381.29,359.30 L381.42,356.04 L381.55,356.80 L381.68,357.27 L381.81,356.47 L381.94,359.25 L382.07,360.84 L382.20,356.81 L382.33,358.09 L382.46,357.89 L382.59,354.39 L382.72,355.52 L382.85,357.99 L382.98,357.59 L383.11,357.32 L383.24,360.63 L383.37,354.99 L383.50,356.80 L383.63,354.83 L383.76,356.14 L383.89,358.09 L384.02,356.91 L384.15,354.41 L384.28,358.01 L384.41,357.71 L384.54,359.64 L384.67,358.39 L384.80,356.65 L384.93,357.37 L385.06,353.42 L385.19,357.25 L385.32,357.61 L385.45,354.64 L385.58,356.60 L385.71,356.46 L385.84,355.58 L385.97,356.80 L386.10,357.64 L386.23,357.16 L386.36,357.72 L386.49,357.36 L386.62,358.59 L386.75,357.94 L386.88,355.53 L387.01,355.18 L387.14,357.54 L387.27,356.66 L387.40,355.41 L387.53,358.41 L387.66,356.61 L387.79,358.42 L387.92,358.01 L388.05,358.64 L388.18,362.19 L388.31,360.77 L388.44,356.62 L388.57,353.33 L388.70,358.05 L388.83,357.60 L388.96,354.72 L389.09,353.60 L389.22,356.13 L389.35,358.12 L389.48,357.19 L389.61,357.38 L389.74,357.57 L389.87,358.19 L390.00,360.03 L390.13,360.80 L390.26,355.50 L390.39,354.76 L390.52,355.48 L390.65,358.23 L390.78,356.07 L390.91,358.67 L391.04,357.92 L391.17,354.89 L391.30,358.03 L391.43,358.37 L391.56,356.18 L391.69,355.68 L391.82,356.81 L391.95,357.18 L392.08,356.90 L392.21,359.03 L392.34,360.91 L392.47,354.71 L392.60,358.78 L392.73,358.21 L392.86,357.95 L392.99,358.88 L393.12,355.11 L393.25,355.73 L393.38,355.33 L393.51,356.11 L393.64,356.42 L393.77,356.73 L393.90,358.02 L394.03,359.09 L394.16,358.75 L394.29,358.01 L394.42,354.92 L394.55,354.93 L394.68,359.43 L394.81,356.96 L394.94,358.64 L395.07,358.97 L395.20,356.81 L395.33,356.25 L395.46,357.81 L395.59,356.35 L395.72,354.87 L395.85,354.10 L395.98,358.94 L396.11,355.07 L396.24,356.85 L396.37,358.95 L396.50,358.79 L396.63,356.10 L396.76,357.73 L396.89,358.74 L397.02,361.03 L397.15,359.11 L397.28,355.93 L397.41,358.61 L397.54,359.45 L397.67,358.15 L397.80,357.92 L397.93,358.22 L398.06,357.56 L398.19,355.42 L398.32,356.07 L398.45,356.83 L398.58,358.62 L398.71,357.97 L398.84,354.70 L398.97,359.63 L399.10,356.92 L399.23,355.51 L399.36,354.85 L399.49,356.49 L399.62,357.23 L399.75,354.52 L399.88,356.93 L400.01,358.91 L400.14,356.94 L400.27,358.86 L400.40,358.12 L400.53,355.69 L400.66,359.88 L400.79,358.08 L400.92,355.90 L401.05,359.49 L401.18,360.36 L401.31,355.48 L401.44,357.02 L401.57,357.18 L401.70,357.74 L401.83,357.01 L401.96,356.86 L402.09,357.24 L402.22,360.26 L402.35,358.68 L402.48,356.33 L402.61,355.23 L402.74,357.80 L402.87,358.44 L403.00,356.35 L403.13,360.13 L403.26,357.53 L403.39,359.47 L403.52,357.74 L403.65,356.71 L403.78,356.27 L403.91,358.01 L404.04,356.03 L404.17,356.54 L404.30,358.73 L404.43,356.95 L404.56,358.38 L404.69,356.02 L404.82,354.56 L404.95,357.34 L405.08,356.98 L405.21,354.90 L405.34,357.51 L405.47,359.10 L405.60,358.34 L405.73,357.83 L405.86,353.93 L405.99,358.09 L406.12,358.17 L406.25,356.34 L406.38,356.38 L406.51,352.60 L406.64,356.02 L406.77,354.25 L406.90,354.47 L407.03,358.22 L407.16,355.73 L407.29,355.96 L407.42,355.18 L407.55,357.85 L407.68,355.20 L407.81,357.19 L407.94,359.83 L408.07,358.00 L408.20,357.62 L408.33,358.03 L408.46,359.79 L408.59,355.45 L408.72,357.85 L408.85,355.65 L408.98,358.22 L409.11,358.61 L409.24,358.56 L409.37,358.58 L409.50,357.28 L409.63,359.05 L409.76,360.49 L409.89,354.97 L410.02,358.55 L410.15,359.14 L410.28,360.28 L410.41,353.76 L410.54,354.63 L410.67,356.60 L410.80,358.35 L410.93,358.22 L411.06,356.90 L411.19,353.93 L411.32,359.49 L411.45,359.73 L411.58,357.70 L411.71,356.71 L411.84,356.33 L411.97,356.31 L412.10,358.01 L412.23,355.84 L412.36,359.38 L412.49,355.74 L412.62,357.17 L412.75,359.22 L412.88,355.73 L413.01,356.64 L413.14,357.76 L413.27,356.55 L413.40,360.17 L413.53,354.81 L413.66,356.40 L413.79,359.62 L413.92,354.84 L414.05,354.65 L414.18,358.84 L414.31,360.15 L414.44,357.29 L414.57,354.56 L414.70,355.25 L414.83,357.50 L414.96,358.16 L415.09,357.38 L415.22,355.80 L415.35,354.11 L415.48,357.42 L415.61,356.41 L415.74,356.41 L415.87,359.25 L416.00,354.22 L416.13,357.79 L416.26,355.75 L416.39,354.17 L416.52,359.22 L416.65,355.23 L416.78,358.36 L416.91,353.41 L417.04,357.79 L417.17,358.97 L417.30,358.54 L417.43,356.49 L417.56,356.88 L417.69,357.89 L417.82,355.70 L417.95,354.39 L418.08,357.79 L418.21,358.42 L418.34,359.04 L418.47,359.92 L418.60,358.16 L418.73,360.62 L418.86,359.57 L418.99,356.53 L419.12,360.42 L419.25,356.01 L419.38,355.11 L419.51,357.31 L419.64,359.55 L419.77,360.00 L419.90,358.00 L420.03,356.97 L420.16,357.48 L420.29,358.01 L420.42,356.91 L420.55,356.13 L420.68,362.19 L420.81,357.31 L420.94,357.35 L421.07,359.39 L421.20,356.56 L421.33,353.65 L421.46,358.10 L421.59,357.35 L421.72,355.98 L421.85,359.13 L421.98,358.69 L422.11,354.15 L422.24,359.35 L422.37,355.81 L422.50,357.57 L422.63,360.67 L422.76,356.25 L422.89,355.30 L423.02,357.12 L423.15,358.60 L423.28,359.23 L423.41,356.60 L423.54,356.07 L423.67,357.35 L423.80,357.28 L423.93,358.25 L424.06,357.22 L424.19,355.05 L424.32,356.50 L424.45,358.45 L424.58,355.94 L424.71,356.67 L424.84,359.70 L424.97,353.51 L425.10,354.95 L425.23,359.06 L425.36,352.33 L425.49,361.01 L425.62,356.44 L425.75,359.83 L425.88,354.17 L426.01,354.14 L426.14,357.98 L426.27,358.37 L426.40,354.35 L426.53,356.51 L426.66,356.75 L426.79,356.26 L426.92,354.36 L427.05,356.71 L427.18,359.02 L427.31,355.88 L427.44,355.99 L427.57,357.28 L427.70,355.86 L427.83,356.77 L427.96,357.83 L428.09,353.81 L428.22,357.61 L428.35,356.48 L428.48,357.62 L428.61,357.06 L428.74,358.09 L428.87,356.31 L429.00,357.88 L429.13,358.10 L429.26,355.28 L429.39,358.55 L429.52,357.68 L429.65,357.59 L429.78,356.31 L429.91,359.22 L430.04,357.15 L430.17,358.36 L430.30,357.95 L430.43,358.10 L430.56,359.48 L430.69,356.87 L430.82,360.14 L430.95,358.38 L431.08,355.55 L431.21,358.83 L431.34,356.42 L431.47,357.25 L431.60,355.80 L431.73,356.97 L431.86,358.75 L431.99,356.53 L432.12,357.44 L432.25,358.82 L432.38,357.64 L432.51,357.63 L432.64,354.13 L432.77,355.32 L432.90,356.83 L433.03,355.87 L433.16,358.29 L433.29,357.72 L433.42,357.89 L433.55,354.94 L433.68,355.16 L433.81,356.53 L433.94,356.31 L434.07,358.80 L434.20,358.40 L434.33,358.25 L434.46,354.61 L434.59,355.25 L434.72,357.92 L434.85,359.21 L434.98,354.06 L435.11,357.46 L435.24,356.47 L435.37,355.87 L435.50,360.75 L435.63,358.47 L435.76,357.79 L435.89,359.63 L436.02,359.22 L436.15,353.44 L436.28,356.64 L436.41,355.37 L436.54,355.07 L436.67,357.69 L436.80,359.94 L436.93,360.06 L437.06,360.43 L437.19,359.33 L437.32,358.14 L437.45,357.10 L437.58,357.72 L437.71,360.38 L437.84,360.32 L437.97,357.93 L438.10,354.32 L438.23,357.86 L438.36,355.04 L438.49,355.59 L438.62,357.34 L438.75,359.65 L438.88,357.65 L439.01,359.42 L439.14,360.59 L439.27,358.41 L439.40,357.94" stroke="#000" stroke-width="0.9" fill="none" stroke-linejoin="bevel"/>
<path d="M298.30,357.30 L298.30,313.50 L298.55,400.50 L298.70,357.30 M300.20,357.30 L300.20,316.40 L300.45,384.40 L300.60,357.30 M301.20,357.30 L301.20,328.00 L301.45,380.00 L301.60,357.30 M302.40,357.30 L302.40,331.00 L302.65,376.00 L302.80,357.30 M303.60,357.30 L303.60,337.60 L303.85,372.70 L304.00,357.30 M305.00,357.30 L305.00,340.00 L305.25,371.00 L305.40,357.30 M269.60,357.30 L269.60,350.80 L269.85,359.00 L270.00,357.30 M317.90,357.30 L317.90,342.00 L318.15,366.90 L318.30,357.30 M330.60,357.30 L330.60,340.30 L330.85,369.00 L331.00,357.30 M339.40,357.30 L339.40,344.20 L339.65,367.60 L339.80,357.30 M348.60,357.30 L348.60,339.40 L348.85,366.00 L349.00,357.30 M354.40,357.30 L354.40,347.30 L354.65,364.00 L354.80,357.30 M360.00,357.30 L360.00,343.20 L360.25,368.80 L360.40,357.30 M380.50,357.30 L380.50,340.00 L380.75,366.00 L380.90,357.30 M398.50,357.30 L398.50,351.50 L398.75,358.00 L398.90,357.30 M402.40,357.30 L402.40,343.20 L402.65,366.80 L402.80,357.30 M409.40,357.30 L409.40,350.10 L409.65,361.90 L409.80,357.30 M432.80,357.30 L432.80,342.20 L433.05,366.00 L433.20,357.30 M437.40,357.30 L437.40,352.00 L437.65,359.00 L437.80,357.30 M344.00,357.30 L344.00,343.00 L344.25,368.00 L344.40,357.30 M345.50,357.30 L345.50,344.00 L345.75,369.00 L345.90,357.30 M346.80,357.30 L346.80,345.00 L347.05,370.00 L347.20,357.30 M343.00,357.30 L343.00,346.00 L343.25,366.00 L343.40,357.30" stroke="#555" stroke-width="0.55" fill="none" />
<path d="M409.4,401.9 H445.5" stroke="#000" stroke-width="1.2" fill="none" />
<text x="427.50" y="397.40" font-size="11" text-anchor="middle" font-weight="normal" fill="#000" >0.05 s</text>
<path d="M261.30,473.27 L261.43,475.06 L261.56,476.15 L261.69,477.55 L261.82,471.84 L261.95,472.94 L262.08,472.57 L262.21,473.64 L262.34,473.94 L262.47,471.92 L262.60,474.70 L262.73,471.67 L262.86,475.20 L262.99,472.61 L263.12,474.76 L263.25,475.02 L263.38,474.02 L263.51,473.16 L263.64,472.83 L263.77,472.19 L263.90,477.05 L264.03,475.32 L264.16,477.64 L264.29,474.92 L264.42,474.86 L264.55,473.17 L264.68,473.78 L264.81,471.39 L264.94,476.04 L265.07,476.04 L265.20,476.96 L265.33,476.91 L265.46,472.37 L265.59,469.66 L265.72,475.64 L265.85,474.71 L265.98,472.45 L266.11,472.56 L266.24,475.71 L266.37,477.53 L266.50,475.04 L266.63,472.98 L266.76,475.78 L266.89,476.26 L267.02,472.04 L267.15,475.62 L267.28,472.45 L267.41,474.27 L267.54,475.13 L267.67,474.33 L267.80,471.47 L267.93,474.93 L268.06,471.62 L268.19,475.50 L268.32,470.71 L268.45,473.31 L268.58,473.33 L268.71,472.92 L268.84,474.62 L268.97,474.69 L269.10,477.58 L269.23,475.06 L269.36,476.26 L269.49,472.13 L269.62,476.19 L269.75,475.83 L269.88,476.75 L270.01,476.84 L270.14,472.57 L270.27,471.79 L270.40,472.79 L270.53,473.05 L270.66,476.79 L270.79,470.56 L270.92,474.30 L271.05,476.07 L271.18,473.93 L271.31,471.57 L271.44,472.58 L271.57,475.22 L271.70,475.58 L271.83,473.92 L271.96,474.84 L272.09,476.79 L272.22,473.57 L272.35,477.88 L272.48,472.38 L272.61,477.74 L272.74,471.55 L272.87,476.70 L273.00,474.22 L273.13,471.36 L273.26,474.43 L273.39,475.22 L273.52,475.28 L273.65,474.41 L273.78,473.88 L273.91,473.65 L274.04,474.38 L274.17,476.46 L274.30,475.08 L274.43,475.49 L274.56,474.56 L274.69,476.80 L274.82,478.66 L274.95,478.31 L275.08,471.95 L275.21,472.59 L275.34,472.26 L275.47,473.53 L275.60,477.84 L275.73,473.52 L275.86,474.39 L275.99,473.81 L276.12,470.67 L276.25,471.98 L276.38,472.84 L276.51,472.60 L276.64,473.56 L276.77,473.32 L276.90,473.77 L277.03,471.17 L277.16,476.08 L277.29,475.11 L277.42,472.85 L277.55,473.28 L277.68,472.56 L277.81,470.61 L277.94,475.45 L278.07,473.37 L278.20,476.19 L278.33,477.00 L278.46,471.69 L278.59,472.07 L278.72,475.16 L278.85,473.16 L278.98,472.93 L279.11,473.42 L279.24,474.99 L279.37,471.63 L279.50,474.34 L279.63,476.26 L279.76,473.14 L279.89,473.49 L280.02,475.02 L280.15,476.01 L280.28,476.04 L280.41,475.10 L280.54,477.24 L280.67,472.99 L280.80,477.28 L280.93,475.29 L281.06,473.63 L281.19,471.51 L281.32,477.11 L281.45,474.70 L281.58,475.26 L281.71,477.17 L281.84,473.46 L281.97,475.70 L282.10,475.85 L282.23,477.31 L282.36,474.83 L282.49,477.70 L282.62,473.21 L282.75,474.11 L282.88,472.99 L283.01,472.42 L283.14,477.41 L283.27,474.75 L283.40,474.15 L283.53,474.58 L283.66,474.49 L283.79,471.39 L283.92,473.35 L284.05,474.94 L284.18,471.91 L284.31,473.81 L284.44,473.45 L284.57,472.32 L284.70,471.65 L284.83,473.04 L284.96,474.61 L285.09,475.23 L285.22,471.28 L285.35,474.49 L285.48,475.32 L285.61,470.96 L285.74,471.63 L285.87,475.24 L286.00,475.56 L286.13,475.27 L286.26,477.24 L286.39,475.55 L286.52,476.80 L286.65,474.20 L286.78,474.23 L286.91,472.51 L287.04,474.41 L287.17,473.49 L287.30,473.08 L287.43,475.38 L287.56,474.91 L287.69,473.39 L287.82,474.61 L287.95,474.84 L288.08,475.04 L288.21,472.93 L288.34,475.44 L288.47,473.33 L288.60,474.80 L288.73,473.21 L288.86,478.06 L288.99,471.49 L289.12,476.14 L289.25,472.34 L289.38,477.29 L289.51,471.85 L289.64,475.57 L289.77,473.88 L289.90,475.99 L290.03,471.74 L290.16,473.60 L290.29,475.08 L290.42,475.80 L290.55,473.03 L290.68,470.61 L290.81,473.51 L290.94,472.87 L291.07,474.34 L291.20,473.36 L291.33,472.21 L291.46,473.82 L291.59,476.86 L291.72,475.28 L291.85,473.45 L291.98,475.33 L292.11,471.50 L292.24,473.06 L292.37,474.04 L292.50,473.48 L292.63,472.98 L292.76,474.18 L292.89,477.63 L293.02,474.10 L293.15,474.96 L293.28,477.41 L293.41,469.51 L293.54,473.59 L293.67,475.88 L293.80,471.39 L293.93,473.39 L294.06,476.72 L294.19,474.39 L294.32,474.61 L294.45,478.20 L294.58,470.59 L294.71,476.35 L294.84,471.77 L294.97,474.99 L295.10,475.34 L295.23,474.48 L295.36,473.72 L295.49,475.81 L295.62,475.05 L295.75,475.82 L295.88,476.12 L296.01,475.39 L296.14,477.56 L296.27,473.40 L296.40,470.63 L296.53,470.77 L296.66,473.87 L296.79,471.74 L296.92,473.50 L297.05,474.39 L297.18,477.12 L297.31,471.88 L297.44,475.10 L297.57,471.68 L297.70,475.89 L297.83,470.12 L297.96,477.15 L298.09,473.67 L298.22,478.42 L298.35,474.63 L298.48,472.45 L298.61,473.41 L298.74,472.94 L298.87,474.78 L299.00,476.57 L299.13,474.72 L299.26,473.65 L299.39,473.70 L299.52,477.55 L299.65,472.44 L299.78,475.63 L299.91,472.57 L300.04,472.72 L300.17,475.51 L300.30,471.20 L300.43,477.37 L300.56,477.47 L300.69,472.38 L300.82,472.12 L300.95,473.94 L301.08,472.98 L301.21,471.26 L301.34,478.69 L301.47,484.41 L301.60,473.82 L301.73,477.23 L301.86,472.55 L301.99,474.28 L302.12,471.95 L302.25,473.86 L302.38,474.96 L302.51,473.74 L302.64,482.13 L302.77,483.81 L302.90,474.67 L303.03,480.01 L303.16,481.50 L303.29,480.53 L303.42,478.89 L303.55,466.98 L303.68,476.23 L303.81,477.98 L303.94,475.28 L304.07,480.16 L304.20,465.61 L304.33,476.80 L304.46,483.05 L304.59,476.99 L304.72,466.33 L304.85,471.82 L304.98,478.61 L305.11,478.78 L305.24,464.29 L305.37,470.20 L305.50,476.65 L305.63,475.89 L305.76,474.83 L305.89,474.24 L306.02,474.86 L306.15,474.43 L306.28,477.89 L306.41,467.98 L306.54,467.55 L306.67,470.89 L306.80,472.84 L306.93,478.75 L307.06,476.77 L307.19,471.99 L307.32,479.93 L307.45,469.10 L307.58,477.25 L307.71,469.74 L307.84,473.85 L307.97,472.82 L308.10,473.48 L308.23,468.57 L308.36,474.45 L308.49,470.60 L308.62,472.15 L308.75,474.60 L308.88,470.58 L309.01,468.42 L309.14,475.56 L309.27,480.10 L309.40,474.94 L309.53,472.84 L309.66,470.83 L309.79,471.05 L309.92,471.96 L310.05,474.18 L310.18,472.64 L310.31,475.78 L310.44,472.67 L310.57,475.79 L310.70,473.04 L310.83,470.10 L310.96,480.27 L311.09,474.43 L311.22,473.30 L311.35,468.79 L311.48,478.67 L311.61,473.94 L311.74,470.42 L311.87,477.10 L312.00,478.47 L312.13,477.51 L312.26,478.07 L312.39,478.43 L312.52,469.74 L312.65,470.42 L312.78,476.63 L312.91,479.77 L313.04,478.98 L313.17,472.41 L313.30,474.30 L313.43,473.18 L313.56,474.37 L313.69,473.12 L313.82,474.64 L313.95,474.14 L314.08,475.96 L314.21,474.39 L314.34,478.01 L314.47,476.23 L314.60,475.43 L314.73,473.62 L314.86,475.31 L314.99,473.01 L315.12,474.57 L315.25,473.38 L315.38,475.97 L315.51,473.51 L315.64,474.37 L315.77,476.09 L315.90,474.68 L316.03,474.20 L316.16,471.87 L316.29,474.57 L316.42,476.32 L316.55,474.16 L316.68,473.50 L316.81,475.37 L316.94,478.06 L317.07,474.72 L317.20,473.77 L317.33,472.90 L317.46,474.31 L317.59,471.52 L317.72,472.97 L317.85,472.73 L317.98,476.94 L318.11,471.29 L318.24,474.26 L318.37,473.08 L318.50,471.82 L318.63,475.02 L318.76,476.18 L318.89,473.58 L319.02,473.55 L319.15,474.27 L319.28,475.47 L319.41,474.74 L319.54,473.66 L319.67,473.11 L319.80,474.28 L319.93,471.69 L320.06,473.71 L320.19,476.27 L320.32,474.42 L320.45,473.82 L320.58,472.16 L320.71,472.11 L320.84,475.74 L320.97,473.87 L321.10,472.14 L321.23,471.79 L321.36,473.21 L321.49,477.06 L321.62,474.19 L321.75,469.89 L321.88,473.48 L322.01,474.63 L322.14,471.58 L322.27,473.93 L322.40,476.72 L322.53,472.68 L322.66,470.91 L322.79,473.19 L322.92,475.62 L323.05,472.26 L323.18,474.17 L323.31,474.44 L323.44,473.95 L323.57,474.05 L323.70,471.07 L323.83,478.45 L323.96,474.06 L324.09,476.87 L324.22,474.05 L324.35,472.66 L324.48,471.27 L324.61,472.03 L324.74,473.95 L324.87,472.64 L325.00,476.81 L325.13,474.11 L325.26,474.40 L325.39,477.37 L325.52,474.95 L325.65,470.69 L325.78,475.82 L325.91,471.53 L326.04,471.92 L326.17,476.06 L326.30,474.50 L326.43,470.96 L326.56,475.32 L326.69,479.21 L326.82,470.79 L326.95,472.45 L327.08,471.17 L327.21,473.88 L327.34,473.05 L327.47,473.32 L327.60,470.96 L327.73,474.39 L327.86,473.47 L327.99,478.11 L328.12,473.85 L328.25,471.14 L328.38,471.49 L328.51,473.73 L328.64,473.00 L328.77,472.84 L328.90,476.44 L329.03,474.23 L329.16,473.38 L329.29,472.13 L329.42,472.41 L329.55,475.49 L329.68,476.19 L329.81,475.74 L329.94,475.05 L330.07,474.88 L330.20,481.03 L330.33,477.93 L330.46,477.91 L330.59,471.80 L330.72,476.20 L330.85,473.38 L330.98,472.33 L331.11,471.16 L331.24,477.42 L331.37,476.79 L331.50,476.17 L331.63,475.83 L331.76,475.68 L331.89,476.05 L332.02,477.13 L332.15,471.98 L332.28,472.52 L332.41,473.66 L332.54,475.06 L332.67,475.41 L332.80,472.95 L332.93,470.25 L333.06,473.99 L333.19,470.02 L333.32,474.18 L333.45,477.38 L333.58,469.38 L333.71,479.55 L333.84,472.46 L333.97,468.50 L334.10,469.78 L334.23,467.45 L334.36,474.21 L334.49,474.12 L334.62,474.97 L334.75,474.63 L334.88,475.90 L335.01,472.86 L335.14,470.14 L335.27,475.17 L335.40,474.61 L335.53,476.70 L335.66,475.69 L335.79,472.86 L335.92,475.94 L336.05,471.11 L336.18,473.03 L336.31,471.28 L336.44,472.06 L336.57,469.77 L336.70,471.85 L336.83,475.44 L336.96,469.49 L337.09,476.43 L337.22,476.34 L337.35,474.35 L337.48,471.32 L337.61,478.13 L337.74,471.95 L337.87,474.08 L338.00,477.18 L338.13,471.36 L338.26,476.57 L338.39,472.23 L338.52,478.15 L338.65,472.93 L338.78,473.17 L338.91,475.70 L339.04,474.81 L339.17,472.35 L339.30,476.71 L339.43,469.02 L339.56,477.63 L339.69,477.95 L339.82,473.78 L339.95,472.87 L340.08,474.65 L340.21,466.51 L340.34,472.22 L340.47,477.52 L340.60,472.23 L340.73,475.44 L340.86,476.66 L340.99,478.15 L341.12,475.81 L341.25,473.87 L341.38,478.09 L341.51,474.73 L341.64,473.59 L341.77,480.51 L341.90,474.02 L342.03,474.85 L342.16,473.00 L342.29,477.21 L342.42,471.25 L342.55,475.53 L342.68,472.44 L342.81,482.10 L342.94,476.43 L343.07,474.39 L343.20,475.10 L343.33,472.29 L343.46,474.98 L343.59,477.24 L343.72,470.24 L343.85,469.86 L343.98,474.65 L344.11,472.29 L344.24,475.98 L344.37,473.39 L344.50,476.39 L344.63,468.36 L344.76,476.50 L344.89,476.24 L345.02,475.01 L345.15,477.61 L345.28,475.34 L345.41,468.64 L345.54,474.24 L345.67,473.43 L345.80,472.44 L345.93,481.11 L346.06,473.78 L346.19,468.87 L346.32,475.04 L346.45,475.83 L346.58,469.89 L346.71,474.49 L346.84,478.75 L346.97,478.73 L347.10,467.72 L347.23,471.01 L347.36,476.85 L347.49,472.43 L347.62,473.24 L347.75,480.12 L347.88,469.93 L348.01,474.27 L348.14,472.60 L348.27,465.65 L348.40,470.73 L348.53,473.88 L348.66,474.98 L348.79,473.22 L348.92,472.15 L349.05,475.04 L349.18,469.71 L349.31,470.44 L349.44,472.28 L349.57,475.16 L349.70,479.11 L349.83,478.87 L349.96,467.86 L350.09,470.43 L350.22,473.90 L350.35,476.77 L350.48,476.12 L350.61,478.26 L350.74,468.45 L350.87,471.87 L351.00,471.79 L351.13,472.69 L351.26,478.62 L351.39,477.52 L351.52,476.86 L351.65,473.30 L351.78,472.73 L351.91,477.76 L352.04,470.51 L352.17,477.87 L352.30,470.61 L352.43,474.64 L352.56,472.48 L352.69,475.86 L352.82,480.89 L352.95,470.69 L353.08,474.96 L353.21,477.16 L353.34,473.63 L353.47,471.31 L353.60,470.41 L353.73,475.66 L353.86,473.80 L353.99,477.29 L354.12,472.72 L354.25,466.89 L354.38,480.11 L354.51,476.75 L354.64,478.14 L354.77,476.60 L354.90,477.94 L355.03,475.48 L355.16,474.96 L355.29,479.88 L355.42,477.94 L355.55,474.69 L355.68,477.96 L355.81,473.26 L355.94,469.94 L356.07,475.82 L356.20,475.51 L356.33,469.59 L356.46,472.35 L356.59,475.28 L356.72,474.96 L356.85,470.55 L356.98,476.96 L357.11,473.64 L357.24,473.31 L357.37,476.59 L357.50,478.14 L357.63,473.90 L357.76,473.24 L357.89,477.56 L358.02,474.55 L358.15,473.50 L358.28,474.14 L358.41,471.62 L358.54,476.99 L358.67,471.64 L358.80,473.58 L358.93,474.90 L359.06,472.36 L359.19,475.45 L359.32,475.19 L359.45,477.53 L359.58,475.81 L359.71,472.34 L359.84,476.37 L359.97,476.14 L360.10,473.83 L360.23,474.78 L360.36,476.05 L360.49,475.49 L360.62,475.38 L360.75,474.46 L360.88,476.85 L361.01,473.26 L361.14,474.47 L361.27,474.81 L361.40,473.74 L361.53,476.16 L361.66,475.56 L361.79,473.68 L361.92,476.56 L362.05,472.91 L362.18,475.20 L362.31,471.47 L362.44,479.79 L362.57,472.75 L362.70,472.70 L362.83,472.78 L362.96,473.80 L363.09,475.50 L363.22,474.60 L363.35,477.31 L363.48,471.74 L363.61,475.61 L363.74,477.72 L363.87,473.11 L364.00,477.74 L364.13,472.64 L364.26,474.21 L364.39,474.87 L364.52,473.80 L364.65,472.98 L364.78,473.66 L364.91,473.40 L365.04,471.75 L365.17,472.87 L365.30,470.20 L365.43,475.26 L365.56,473.70 L365.69,472.67 L365.82,471.85 L365.95,474.31 L366.08,472.96 L366.21,475.26 L366.34,474.76 L366.47,477.30 L366.60,476.43 L366.73,475.12 L366.86,471.67 L366.99,474.24 L367.12,472.72 L367.25,470.36 L367.38,472.88 L367.51,473.88 L367.64,476.54 L367.77,478.94 L367.90,471.62 L368.03,474.74 L368.16,474.82 L368.29,477.35 L368.42,472.05 L368.55,476.22 L368.68,469.47 L368.81,472.55 L368.94,475.02 L369.07,469.24 L369.20,474.90 L369.33,473.49 L369.46,472.83 L369.59,473.00 L369.72,472.71 L369.85,476.49 L369.98,471.23 L370.11,473.80 L370.24,473.19 L370.37,474.61 L370.50,474.82 L370.63,474.14 L370.76,480.56 L370.89,471.98 L371.02,473.40 L371.15,472.85 L371.28,473.59 L371.41,472.24 L371.54,471.40 L371.67,477.62 L371.80,474.12 L371.93,473.70 L372.06,475.83 L372.19,473.58 L372.32,473.68 L372.45,475.85 L372.58,474.72 L372.71,475.97 L372.84,476.81 L372.97,470.10 L373.10,475.59 L373.23,472.10 L373.36,472.42 L373.49,475.10 L373.62,474.99 L373.75,475.28 L373.88,477.10 L374.01,475.07 L374.14,475.07 L374.27,474.87 L374.40,471.34 L374.53,475.63 L374.66,476.82 L374.79,475.52 L374.92,473.66 L375.05,475.90 L375.18,469.26 L375.31,475.80 L375.44,475.57 L375.57,474.16 L375.70,472.94 L375.83,473.28 L375.96,472.67 L376.09,477.08 L376.22,472.87 L376.35,472.50 L376.48,473.63 L376.61,475.80 L376.74,471.01 L376.87,474.81 L377.00,473.97 L377.13,476.46 L377.26,474.36 L377.39,473.63 L377.52,474.62 L377.65,477.14 L377.78,478.04 L377.91,476.00 L378.04,471.94 L378.17,475.20 L378.30,475.67 L378.43,475.40 L378.56,471.22 L378.69,474.83 L378.82,473.37 L378.95,473.64 L379.08,475.40 L379.21,474.85 L379.34,473.45 L379.47,473.77 L379.60,475.11 L379.73,475.55 L379.86,474.39 L379.99,476.58 L380.12,474.41 L380.25,475.37 L380.38,474.22 L380.51,471.76 L380.64,474.14 L380.77,473.22 L380.90,473.01 L381.03,472.97 L381.16,473.00 L381.29,474.41 L381.42,475.52 L381.55,471.28 L381.68,472.59 L381.81,474.60 L381.94,474.20 L382.07,476.28 L382.20,473.59 L382.33,475.98 L382.46,471.54 L382.59,472.05 L382.72,474.59 L382.85,473.69 L382.98,474.53 L383.11,472.49 L383.24,475.64 L383.37,475.49 L383.50,475.42 L383.63,472.95 L383.76,473.48 L383.89,476.24 L384.02,470.60 L384.15,472.65 L384.28,478.32 L384.41,471.47 L384.54,476.76 L384.67,475.38 L384.80,471.88 L384.93,474.39 L385.06,475.00 L385.19,472.96 L385.32,475.54 L385.45,474.24 L385.58,478.12 L385.71,473.32 L385.84,473.28 L385.97,474.41 L386.10,474.12 L386.23,472.69 L386.36,475.70 L386.49,472.76 L386.62,474.02 L386.75,474.81 L386.88,474.03 L387.01,475.78 L387.14,473.38 L387.27,477.00 L387.40,475.66 L387.53,472.11 L387.66,471.71 L387.79,475.03 L387.92,476.21 L388.05,474.78 L388.18,471.84 L388.31,473.67 L388.44,473.81 L388.57,477.69 L388.70,473.11 L388.83,475.78 L388.96,475.74 L389.09,475.66 L389.22,476.35 L389.35,474.24 L389.48,475.37 L389.61,478.34 L389.74,473.00 L389.87,474.62 L390.00,473.71 L390.13,473.38 L390.26,472.31 L390.39,473.92 L390.52,476.90 L390.65,473.21 L390.78,477.42 L390.91,470.24 L391.04,472.09 L391.17,472.67 L391.30,472.97 L391.43,471.18 L391.56,476.62 L391.69,471.58 L391.82,477.82 L391.95,472.23 L392.08,475.66 L392.21,476.84 L392.34,473.35 L392.47,470.59 L392.60,472.29 L392.73,476.48 L392.86,475.93 L392.99,474.26 L393.12,474.39 L393.25,475.49 L393.38,476.01 L393.51,475.26 L393.64,474.57 L393.77,474.65 L393.90,471.93 L394.03,472.19 L394.16,473.96 L394.29,474.65 L394.42,475.32 L394.55,473.00 L394.68,471.33 L394.81,476.65 L394.94,475.68 L395.07,476.27 L395.20,472.61 L395.33,475.97 L395.46,473.08 L395.59,474.56 L395.72,476.19 L395.85,473.42 L395.98,474.99 L396.11,475.97 L396.24,471.05 L396.37,471.91 L396.50,473.93 L396.63,475.00 L396.76,470.87 L396.89,474.89 L397.02,478.06 L397.15,474.94 L397.28,472.22 L397.41,474.26 L397.54,472.16 L397.67,472.19 L397.80,471.95 L397.93,470.92 L398.06,473.06 L398.19,473.19 L398.32,472.69 L398.45,475.21 L398.58,474.49 L398.71,475.66 L398.84,471.22 L398.97,477.18 L399.10,476.43 L399.23,472.41 L399.36,473.88 L399.49,472.89 L399.62,473.42 L399.75,475.09 L399.88,475.31 L400.01,471.80 L400.14,473.99 L400.27,473.91 L400.40,473.79 L400.53,471.11 L400.66,471.28 L400.79,473.79 L400.92,475.16 L401.05,471.90 L401.18,473.28 L401.31,476.25 L401.44,474.78 L401.57,473.65 L401.70,474.96 L401.83,472.79 L401.96,473.87 L402.09,473.37 L402.22,468.21 L402.35,475.89 L402.48,472.48 L402.61,473.18 L402.74,473.54 L402.87,475.75 L403.00,472.06 L403.13,470.91 L403.26,475.32 L403.39,475.34 L403.52,473.19 L403.65,475.24 L403.78,477.37 L403.91,473.58 L404.04,473.86 L404.17,474.15 L404.30,476.46 L404.43,472.46 L404.56,475.30 L404.69,473.20 L404.82,473.43 L404.95,475.82 L405.08,472.60 L405.21,475.28 L405.34,477.62 L405.47,473.97 L405.60,475.88 L405.73,474.99 L405.86,475.40 L405.99,475.82 L406.12,471.73 L406.25,474.97 L406.38,475.31 L406.51,472.54 L406.64,475.00 L406.77,473.38 L406.90,473.71 L407.03,474.96 L407.16,475.62 L407.29,471.32 L407.42,472.98 L407.55,473.48 L407.68,473.92 L407.81,474.63 L407.94,473.37 L408.07,473.31 L408.20,474.40 L408.33,475.61 L408.46,474.59 L408.59,472.81 L408.72,476.33 L408.85,473.31 L408.98,475.10 L409.11,475.05 L409.24,476.26 L409.37,474.15 L409.50,473.47 L409.63,473.85 L409.76,474.66 L409.89,472.58 L410.02,475.15 L410.15,474.30 L410.28,473.89 L410.41,474.89 L410.54,473.34 L410.67,476.57 L410.80,475.86 L410.93,478.93 L411.06,472.28 L411.19,472.54 L411.32,472.59 L411.45,472.84 L411.58,473.36 L411.71,473.12 L411.84,473.51 L411.97,475.23 L412.10,472.06 L412.23,473.47 L412.36,475.28 L412.49,471.69 L412.62,475.33 L412.75,472.83 L412.88,474.89 L413.01,473.44 L413.14,471.73 L413.27,474.45 L413.40,475.53 L413.53,474.41 L413.66,472.05 L413.79,476.01 L413.92,469.78 L414.05,476.83 L414.18,472.27 L414.31,471.49 L414.44,476.32 L414.57,473.97 L414.70,473.57 L414.83,473.66 L414.96,472.97 L415.09,473.65 L415.22,472.91 L415.35,475.95 L415.48,475.22 L415.61,476.45 L415.74,473.78 L415.87,477.44 L416.00,475.69 L416.13,474.17 L416.26,473.98 L416.39,474.95 L416.52,475.05 L416.65,474.46 L416.78,474.38 L416.91,476.87 L417.04,473.92 L417.17,472.35 L417.30,472.82 L417.43,475.07 L417.56,475.87 L417.69,478.34 L417.82,475.30 L417.95,475.67 L418.08,476.35 L418.21,474.61 L418.34,473.48 L418.47,474.26 L418.60,472.74 L418.73,472.74 L418.86,473.51 L418.99,472.09 L419.12,473.03 L419.25,476.52 L419.38,470.66 L419.51,474.28 L419.64,477.52 L419.77,472.79 L419.90,473.40 L420.03,472.99 L420.16,477.17 L420.29,475.90 L420.42,477.69 L420.55,474.69 L420.68,474.86 L420.81,475.46 L420.94,473.76 L421.07,473.25 L421.20,472.72 L421.33,475.53 L421.46,475.16 L421.59,474.28 L421.72,474.34 L421.85,476.66 L421.98,473.61 L422.11,473.50 L422.24,475.47 L422.37,474.11 L422.50,475.00 L422.63,475.54 L422.76,475.48 L422.89,475.31 L423.02,475.51 L423.15,474.50 L423.28,474.62 L423.41,473.25 L423.54,472.47 L423.67,473.26 L423.80,474.09 L423.93,473.17 L424.06,475.76 L424.19,473.82 L424.32,475.36 L424.45,473.76 L424.58,474.26 L424.71,477.64 L424.84,471.78 L424.97,475.33 L425.10,475.66 L425.23,471.92 L425.36,473.82 L425.49,470.98 L425.62,475.47 L425.75,474.31 L425.88,476.88 L426.01,472.65 L426.14,477.22 L426.27,476.30 L426.40,474.20 L426.53,472.45 L426.66,472.94 L426.79,475.22 L426.92,474.74 L427.05,472.93 L427.18,472.11 L427.31,475.35 L427.44,472.14 L427.57,474.05 L427.70,475.75 L427.83,476.19 L427.96,473.43 L428.09,478.59 L428.22,475.29 L428.35,478.89 L428.48,473.49 L428.61,474.44 L428.74,472.80 L428.87,475.12 L429.00,474.67 L429.13,476.46 L429.26,471.76 L429.39,473.40 L429.52,473.15 L429.65,473.82 L429.78,475.50 L429.91,472.74 L430.04,476.96 L430.17,474.49 L430.30,477.49 L430.43,473.62 L430.56,474.78 L430.69,471.59 L430.82,474.80 L430.95,475.13 L431.08,475.62 L431.21,471.57 L431.34,472.86 L431.47,473.64 L431.60,471.16 L431.73,471.64 L431.86,475.33 L431.99,475.14 L432.12,472.94 L432.25,473.64 L432.38,474.08 L432.51,473.03 L432.64,474.95 L432.77,475.12 L432.90,475.98 L433.03,474.53 L433.16,469.89 L433.29,473.51 L433.42,470.38 L433.55,474.67 L433.68,475.66 L433.81,475.02 L433.94,475.59 L434.07,473.51 L434.20,474.92 L434.33,474.28 L434.46,473.03 L434.59,471.88 L434.72,472.06 L434.85,471.68 L434.98,476.25 L435.11,471.53 L435.24,474.23 L435.37,472.73 L435.50,471.71 L435.63,474.90 L435.76,473.47 L435.89,474.42 L436.02,473.22 L436.15,475.68 L436.28,474.00 L436.41,474.84 L436.54,473.06 L436.67,473.58 L436.80,473.05 L436.93,473.09 L437.06,472.69 L437.19,471.34 L437.32,472.68 L437.45,473.82 L437.58,473.54 L437.71,472.93 L437.84,474.16 L437.97,469.88 L438.10,475.29 L438.23,472.17 L438.36,476.05 L438.49,473.02 L438.62,474.01 L438.75,473.96 L438.88,473.12 L439.01,475.21 L439.14,474.75 L439.27,474.35 L439.40,473.28" stroke="#c000c0" stroke-width="0.85" fill="none" stroke-linejoin="bevel"/>
<path d="M301.80,474.20 L301.80,435.20 L302.05,513.00 L302.20,474.20 M302.60,474.20 L302.60,445.00 L302.85,500.00 L303.00,474.20 M303.60,474.20 L303.60,452.00 L303.85,494.00 L304.00,474.20 M313.00,474.20 L313.00,448.90 L313.25,493.70 L313.40,474.20 M339.70,474.20 L339.70,458.70 L339.95,486.00 L340.10,474.20 M345.60,474.20 L345.60,454.10 L345.85,492.70 L346.00,474.20 M359.60,474.20 L359.60,443.00 L359.85,489.20 L360.00,474.20 M391.90,474.20 L391.90,447.10 L392.15,487.40 L392.30,474.20 M336.00,474.20 L336.00,462.00 L336.25,484.00 L336.40,474.20 M349.00,474.20 L349.00,463.00 L349.25,483.00 L349.40,474.20 M431.00,474.20 L431.00,469.00 L431.25,480.00 L431.40,474.20" stroke="#c000c0" stroke-width="0.55" fill="none" />
<text x="477.00" y="308.50" font-size="27" text-anchor="start" font-weight="bold" fill="#000" >f</text>
<path d="M566.4,305.9 H570.3 V320.4 H566.4" stroke="#000" stroke-width="1.5" fill="none" />
<path d="M570.2,324 V507 M566.4,373.8 H570.3 M566.4,440.2 H570.3" stroke="#000" stroke-width="1.6" fill="none" />
<path d="M566.2,507.8 H685" stroke="#000" stroke-width="2.2" fill="none" />
<path d="M601.4,507.8 V511.6 M653.4,507.8 V511.6" stroke="#000" stroke-width="1.7" fill="none" />
<text x="562.80" y="310.50" font-size="13.6" text-anchor="end" font-weight="normal" fill="#000" >2.0</text>
<text x="562.80" y="324.40" font-size="13.6" text-anchor="end" font-weight="normal" fill="#000" >1.8</text>
<text x="562.80" y="378.40" font-size="13.6" text-anchor="end" font-weight="normal" fill="#000" >0.8</text>
<text x="562.80" y="445.00" font-size="13.6" text-anchor="end" font-weight="normal" fill="#000" >0.4</text>
<text x="562.80" y="511.30" font-size="13.6" text-anchor="end" font-weight="normal" fill="#000" >0.0</text>
<text x="538.00" y="416.00" font-size="13.6" text-anchor="middle" font-weight="bold" fill="#000" transform="rotate(-90 538 416)" >C fibre electrical threshold (mA)</text>
<rect x="585.1" y="426.1" width="32.7" height="80.6" fill="#666"/>
<rect x="637.1" y="373.2" width="32.7" height="133.5" fill="#c000c0"/>
<path d="M653.4,373.2 V352.8" stroke="#c000c0" stroke-width="2" fill="none" />
<path d="M600.5,426.1 V416.8" stroke="#333" stroke-width="0.8" fill="none" />
<circle cx="598.4" cy="358.4" r="2.1" fill="none" stroke="#000" stroke-width="0.75"/>
<circle cx="596.6" cy="390" r="2.1" fill="none" stroke="#000" stroke-width="0.75"/>
<circle cx="605.9" cy="389.7" r="2.1" fill="none" stroke="#000" stroke-width="0.75"/>
<circle cx="596.2" cy="406.4" r="2.1" fill="none" stroke="#000" stroke-width="0.75"/>
<circle cx="600.5" cy="416.8" r="2.1" fill="none" stroke="#000" stroke-width="0.75"/>
<circle cx="600.1" cy="424.5" r="2.1" fill="none" stroke="#000" stroke-width="0.75"/>
<circle cx="605.3" cy="428.4" r="2.1" fill="none" stroke="#000" stroke-width="0.75"/>
<circle cx="600.1" cy="451.3" r="2.1" fill="none" stroke="#000" stroke-width="0.75"/>
<circle cx="599.3" cy="457.7" r="2.1" fill="none" stroke="#000" stroke-width="0.75"/>
<circle cx="601.3" cy="461.7" r="2.1" fill="none" stroke="#000" stroke-width="0.75"/>
<circle cx="605.6" cy="467.1" r="2.1" fill="none" stroke="#000" stroke-width="0.75"/>
<circle cx="604.7" cy="473.4" r="2.1" fill="none" stroke="#000" stroke-width="0.75"/>
<circle cx="656" cy="313.1" r="2.1" fill="none" stroke="#000" stroke-width="0.75"/>
<circle cx="653.4" cy="342" r="2.1" fill="none" stroke="#000" stroke-width="0.75"/>
<circle cx="656.8" cy="357.1" r="2.1" fill="none" stroke="#000" stroke-width="0.75"/>
<circle cx="653.7" cy="375" r="2.1" fill="none" stroke="#000" stroke-width="0.75"/>
<circle cx="655" cy="374" r="2.1" fill="none" stroke="#000" stroke-width="0.75"/>
<circle cx="648.3" cy="392" r="2.1" fill="none" stroke="#000" stroke-width="0.75"/>
<circle cx="651.7" cy="391.7" r="2.1" fill="none" stroke="#000" stroke-width="0.75"/>
<circle cx="657.1" cy="390.5" r="2.1" fill="none" stroke="#000" stroke-width="0.75"/>
<circle cx="658.5" cy="423.3" r="2.1" fill="none" stroke="#000" stroke-width="0.75"/>
<circle cx="654.2" cy="432.2" r="2.1" fill="none" stroke="#000" stroke-width="0.75"/>
<circle cx="651.2" cy="444.4" r="2.1" fill="none" stroke="#000" stroke-width="0.75"/>
<text x="601.60" y="348.60" font-size="13.6" text-anchor="middle" font-weight="normal" fill="#000" >(12)</text>
<text x="653.80" y="303.40" font-size="13.6" text-anchor="middle" font-weight="normal" fill="#000" >(11)</text>
<text x="653.70" y="294.50" font-size="11" text-anchor="middle" font-weight="normal" fill="#000" >*</text>
<text x="0.00" y="0.00" font-size="13.6" text-anchor="end" font-weight="normal" fill="#000" transform="translate(599.5,520.9) rotate(-45)" >pre-</text>
<text x="0.00" y="0.00" font-size="13.6" text-anchor="end" font-weight="normal" fill="#000" transform="translate(608,532.2) rotate(-45)" >illumination</text>
<text x="0.00" y="0.00" font-size="13.6" text-anchor="end" font-weight="normal" fill="#000" transform="translate(661,521.6) rotate(-45)" >post-365 nm</text>
<text x="7.00" y="584.50" font-size="27" text-anchor="start" font-weight="bold" fill="#000" >g</text>
<text x="53.50" y="633.60" font-size="13.6" text-anchor="middle" font-weight="normal" fill="#000" transform="rotate(-90 53.5 633.6)" >Raster sweeps</text>
<text x="71.80" y="599.40" font-size="13.6" text-anchor="end" font-weight="normal" fill="#000" >14</text>
<text x="71.80" y="627.40" font-size="13.6" text-anchor="end" font-weight="normal" fill="#000" >1</text>
<text x="71.80" y="648.50" font-size="13.6" text-anchor="end" font-weight="normal" fill="#000" >14</text>
<text x="71.80" y="676.50" font-size="13.6" text-anchor="end" font-weight="normal" fill="#000" >1</text>
<path d="M74.1,595 H76.7 V624.8 H74.1 M74.1,645 H76.7 V673.9 H74.1" stroke="#000" stroke-width="1.9" fill="none" />
<g fill="#000" shape-rendering="crispEdges"><rect x="137" y="596" width="1" height="1"/><rect x="140" y="596" width="1" height="1"/><rect x="137" y="598" width="1" height="1"/><rect x="137" y="600" width="1" height="1"/><rect x="140" y="600" width="1" height="1"/><rect x="137" y="603" width="1" height="1"/><rect x="140" y="603" width="1" height="1"/><rect x="137" y="605" width="1" height="1"/><rect x="140" y="605" width="1" height="1"/><rect x="137" y="607" width="1" height="1"/><rect x="140" y="607" width="1" height="1"/><rect x="137" y="609" width="1" height="1"/><rect x="140" y="609" width="1" height="1"/><rect x="137" y="611" width="1" height="1"/><rect x="140" y="611" width="1" height="1"/><rect x="137" y="613" width="1" height="1"/><rect x="140" y="613" width="1" height="1"/><rect x="137" y="616" width="1" height="1"/><rect x="137" y="618" width="1" height="1"/><rect x="140" y="618" width="1" height="1"/><rect x="137" y="620" width="1" height="1"/><rect x="140" y="620" width="1" height="1"/><rect x="137" y="622" width="1" height="1"/><rect x="140" y="622" width="1" height="1"/><rect x="137" y="624" width="1" height="1"/><rect x="140" y="624" width="1" height="1"/><rect x="145" y="596" width="1" height="1"/><rect x="149" y="596" width="1" height="1"/><rect x="152" y="596" width="1" height="1"/><rect x="157" y="596" width="1" height="1"/><rect x="145" y="598" width="1" height="1"/><rect x="149" y="598" width="1" height="1"/><rect x="151" y="598" width="1" height="1"/><rect x="159" y="598" width="1" height="1"/><rect x="145" y="600" width="1" height="1"/><rect x="151" y="600" width="1" height="1"/><rect x="145" y="603" width="1" height="1"/><rect x="151" y="603" width="1" height="1"/><rect x="158" y="603" width="1" height="1"/><rect x="146" y="605" width="1" height="1"/><rect x="148" y="605" width="1" height="1"/><rect x="151" y="605" width="1" height="1"/><rect x="159" y="605" width="1" height="1"/><rect x="146" y="607" width="1" height="1"/><rect x="148" y="607" width="1" height="1"/><rect x="152" y="607" width="1" height="1"/><rect x="146" y="609" width="1" height="1"/><rect x="151" y="609" width="1" height="1"/><rect x="156" y="609" width="1" height="1"/><rect x="146" y="611" width="1" height="1"/><rect x="148" y="611" width="1" height="1"/><rect x="151" y="611" width="1" height="1"/><rect x="157" y="611" width="1" height="1"/><rect x="147" y="613" width="1" height="1"/><rect x="147" y="613" width="1" height="1"/><rect x="152" y="613" width="1" height="1"/><rect x="147" y="616" width="1" height="1"/><rect x="147" y="616" width="1" height="1"/><rect x="151" y="616" width="1" height="1"/><rect x="147" y="618" width="1" height="1"/><rect x="147" y="618" width="1" height="1"/><rect x="151" y="618" width="1" height="1"/><rect x="147" y="620" width="1" height="1"/><rect x="147" y="620" width="1" height="1"/><rect x="158" y="620" width="1" height="1"/><rect x="148" y="622" width="1" height="1"/><rect x="147" y="622" width="1" height="1"/><rect x="150" y="622" width="1" height="1"/><rect x="148" y="624" width="1" height="1"/><rect x="146" y="624" width="1" height="1"/><rect x="152" y="624" width="1" height="1"/><rect x="171" y="596" width="1" height="1"/><rect x="172" y="598" width="1" height="1"/><rect x="175" y="603" width="1" height="1"/><rect x="174" y="605" width="1" height="1"/><rect x="188" y="603" width="1" height="1"/><rect x="190" y="598" width="1" height="1"/><rect x="191" y="600" width="1" height="1"/><rect x="192" y="605" width="1" height="1"/><rect x="194" y="596" width="1" height="1"/><rect x="195" y="607" width="1" height="1"/><rect x="200" y="598" width="1" height="1"/><rect x="201" y="603" width="1" height="1"/><rect x="202" y="596" width="1" height="1"/><rect x="204" y="609" width="1" height="1"/><rect x="206" y="600" width="1" height="1"/><rect x="208" y="605" width="1" height="1"/><rect x="208" y="596" width="1" height="1"/><rect x="210" y="598" width="1" height="1"/><rect x="212" y="603" width="1" height="1"/><rect x="204" y="613" width="1" height="1"/><rect x="215" y="596" width="1" height="1"/><rect x="216" y="600" width="1" height="1"/><rect x="218" y="605" width="1" height="1"/><rect x="219" y="607" width="1" height="1"/><rect x="220" y="611" width="1" height="1"/><rect x="222" y="598" width="1" height="1"/><rect x="224" y="596" width="1" height="1"/><rect x="225" y="603" width="1" height="1"/><rect x="226" y="607" width="1" height="1"/><rect x="228" y="609" width="1" height="1"/><rect x="228" y="613" width="1" height="1"/><rect x="230" y="600" width="1" height="1"/><rect x="231" y="605" width="1" height="1"/><rect x="232" y="598" width="1" height="1"/><rect x="234" y="611" width="1" height="1"/><rect x="235" y="616" width="1" height="1"/><rect x="236" y="603" width="1" height="1"/><rect x="237" y="607" width="1" height="1"/><rect x="238" y="596" width="1" height="1"/><rect x="226" y="620" width="1" height="1"/><rect x="232" y="618" width="1" height="1"/><rect x="228" y="622" width="1" height="1"/><rect x="242" y="596" width="1" height="1"/><rect x="242" y="600" width="1" height="1"/><rect x="244" y="605" width="1" height="1"/><rect x="244" y="609" width="1" height="1"/><rect x="246" y="613" width="1" height="1"/><rect x="246" y="598" width="1" height="1"/><rect x="248" y="603" width="1" height="1"/><rect x="248" y="607" width="1" height="1"/><rect x="250" y="596" width="1" height="1"/><rect x="243" y="596" width="1" height="1"/><rect x="242" y="598" width="1" height="1"/><rect x="241" y="603" width="1" height="1"/><rect x="242" y="607" width="1" height="1"/><rect x="243" y="611" width="1" height="1"/><rect x="243" y="616" width="1" height="1"/><rect x="247" y="598" width="1" height="1"/><rect x="246" y="600" width="1" height="1"/><rect x="246" y="603" width="1" height="1"/><rect x="247" y="605" width="1" height="1"/><rect x="249" y="607" width="1" height="1"/><rect x="249" y="609" width="1" height="1"/><rect x="247" y="618" width="1" height="1"/><rect x="251" y="618" width="1" height="1"/><rect x="251" y="596" width="1" height="1"/><rect x="251" y="598" width="1" height="1"/><rect x="256" y="598" width="1" height="1"/><rect x="255" y="603" width="1" height="1"/><rect x="258" y="607" width="1" height="1"/><rect x="255" y="609" width="1" height="1"/><rect x="255" y="611" width="1" height="1"/><rect x="262" y="603" width="1" height="1"/><rect x="266" y="600" width="1" height="1"/><rect x="256" y="624" width="1" height="1"/><rect x="273" y="596" width="1" height="1"/><rect x="273" y="598" width="1" height="1"/><rect x="290" y="596" width="1" height="1"/><rect x="292" y="598" width="1" height="1"/><rect x="294" y="603" width="1" height="1"/><rect x="298" y="598" width="1" height="1"/><rect x="298" y="607" width="1" height="1"/><rect x="292" y="609" width="1" height="1"/><rect x="295" y="618" width="1" height="1"/><rect x="318" y="596" width="1" height="1"/><rect x="320" y="598" width="1" height="1"/><rect x="315" y="603" width="1" height="1"/><rect x="329" y="600" width="1" height="1"/><rect x="322" y="611" width="1" height="1"/><rect x="333" y="616" width="1" height="1"/><rect x="342" y="607" width="1" height="1"/><rect x="351" y="598" width="1" height="1"/><rect x="355" y="609" width="1" height="1"/><rect x="200" y="611" width="1" height="1"/><rect x="212" y="620" width="1" height="1"/><rect x="218" y="616" width="1" height="1"/><rect x="210" y="618" width="1" height="1"/><rect x="184" y="603" width="1" height="1"/><rect x="186" y="609" width="1" height="1"/><rect x="147" y="596" width="1" height="1"/><rect x="158" y="596" width="1" height="1"/><rect x="153" y="598" width="1" height="1"/><rect x="159" y="598" width="1" height="1"/><rect x="144" y="600" width="1" height="1"/><rect x="147" y="600" width="1" height="1"/><rect x="154" y="600" width="1" height="1"/><rect x="158" y="600" width="1" height="1"/><rect x="143" y="603" width="1" height="1"/><rect x="147" y="603" width="1" height="1"/><rect x="153" y="603" width="1" height="1"/><rect x="159" y="603" width="1" height="1"/><rect x="143" y="605" width="1" height="1"/><rect x="147" y="605" width="1" height="1"/><rect x="153" y="607" width="1" height="1"/><rect x="159" y="607" width="1" height="1"/><rect x="142" y="609" width="1" height="1"/><rect x="147" y="609" width="1" height="1"/><rect x="159" y="609" width="1" height="1"/><rect x="143" y="611" width="1" height="1"/><rect x="143" y="613" width="1" height="1"/><rect x="147" y="613" width="1" height="1"/><rect x="159" y="613" width="1" height="1"/><rect x="143" y="616" width="1" height="1"/><rect x="147" y="616" width="1" height="1"/><rect x="159" y="616" width="1" height="1"/><rect x="153" y="618" width="1" height="1"/><rect x="143" y="620" width="1" height="1"/><rect x="147" y="620" width="1" height="1"/><rect x="153" y="622" width="1" height="1"/><rect x="146" y="624" width="1" height="1"/><rect x="154" y="624" width="1" height="1"/><rect x="158" y="624" width="1" height="1"/><rect x="221" y="613" width="1" height="1"/><rect x="203" y="605" width="1" height="1"/><rect x="237" y="600" width="1" height="1"/><rect x="204" y="600" width="1" height="1"/><rect x="247" y="605" width="1" height="1"/><rect x="223" y="605" width="1" height="1"/><rect x="249" y="609" width="1" height="1"/><rect x="228" y="607" width="1" height="1"/><rect x="210" y="611" width="1" height="1"/><rect x="201" y="609" width="1" height="1"/><rect x="211" y="605" width="1" height="1"/><rect x="220" y="603" width="1" height="1"/><rect x="227" y="600" width="1" height="1"/><rect x="197" y="603" width="1" height="1"/><rect x="200" y="613" width="1" height="1"/><rect x="223" y="609" width="1" height="1"/><rect x="238" y="603" width="1" height="1"/><rect x="247" y="605" width="1" height="1"/><rect x="220" y="607" width="1" height="1"/><rect x="233" y="611" width="1" height="1"/><rect x="206" y="611" width="1" height="1"/><rect x="219" y="605" width="1" height="1"/><rect x="242" y="613" width="1" height="1"/><rect x="242" y="605" width="1" height="1"/><rect x="245" y="611" width="1" height="1"/><rect x="248" y="611" width="1" height="1"/><rect x="249" y="607" width="1" height="1"/><rect x="236" y="611" width="1" height="1"/><rect x="224" y="607" width="1" height="1"/><rect x="217" y="613" width="1" height="1"/><rect x="216" y="611" width="1" height="1"/><rect x="226" y="609" width="1" height="1"/><rect x="212" y="600" width="1" height="1"/><rect x="232" y="603" width="1" height="1"/><rect x="215" y="611" width="1" height="1"/><rect x="198" y="613" width="1" height="1"/><rect x="227" y="607" width="1" height="1"/><rect x="232" y="600" width="1" height="1"/><rect x="197" y="609" width="1" height="1"/><rect x="227" y="609" width="1" height="1"/><rect x="240" y="605" width="1" height="1"/><rect x="204" y="616" width="1" height="1"/><rect x="199" y="607" width="1" height="1"/><rect x="229" y="616" width="1" height="1"/><rect x="200" y="609" width="1" height="1"/><rect x="186" y="603" width="1" height="1"/><rect x="192" y="607" width="1" height="1"/><rect x="186" y="607" width="1" height="1"/><rect x="187" y="600" width="1" height="1"/><rect x="195" y="607" width="1" height="1"/><rect x="186" y="596" width="1" height="1"/><rect x="186" y="607" width="1" height="1"/><rect x="186" y="607" width="1" height="1"/><rect x="194" y="607" width="1" height="1"/><rect x="195" y="605" width="1" height="1"/></g>
<g fill="#c000c0"><rect x="136" y="644" width="1.3" height="1.3"/><rect x="136" y="647" width="1.3" height="1.3"/><rect x="136" y="649" width="1.3" height="1.3"/><rect x="136" y="651" width="1.3" height="1.3"/><rect x="136" y="653" width="1.3" height="1.3"/><rect x="136" y="656" width="1.3" height="1.3"/><rect x="136" y="658" width="1.3" height="1.3"/><rect x="136" y="660" width="1.3" height="1.3"/><rect x="136" y="662" width="1.3" height="1.3"/><rect x="136" y="664" width="1.3" height="1.3"/><rect x="136" y="666" width="1.3" height="1.3"/><rect x="136" y="669" width="1.3" height="1.3"/><rect x="136" y="671" width="1.3" height="1.3"/><rect x="136" y="673" width="1.3" height="1.3"/><rect x="114" y="653" width="1.3" height="1.3"/><rect x="123" y="660" width="1.3" height="1.3"/><rect x="125" y="668" width="1.3" height="1.3"/><rect x="142" y="648" width="1.3" height="1.3"/><rect x="144" y="645" width="1.3" height="1.3"/><rect x="142" y="653" width="1.3" height="1.3"/><rect x="143" y="655" width="1.3" height="1.3"/><rect x="147" y="655" width="1.3" height="1.3"/><rect x="149" y="658" width="1.3" height="1.3"/><rect x="152" y="655" width="1.3" height="1.3"/><rect x="156" y="648" width="1.3" height="1.3"/><rect x="158" y="650" width="1.3" height="1.3"/><rect x="160" y="645" width="1.3" height="1.3"/><rect x="162" y="648" width="1.3" height="1.3"/><rect x="160" y="655" width="1.3" height="1.3"/><rect x="159" y="658" width="1.3" height="1.3"/><rect x="154" y="663" width="1.3" height="1.3"/><rect x="150" y="665" width="1.3" height="1.3"/><rect x="145" y="668" width="1.3" height="1.3"/><rect x="144" y="673" width="1.3" height="1.3"/><rect x="163" y="665" width="1.3" height="1.3"/><rect x="180" y="673" width="1.3" height="1.3"/><rect x="195" y="653" width="1.3" height="1.3"/><rect x="204" y="660" width="1.3" height="1.3"/><rect x="212" y="645" width="1.3" height="1.3"/><rect x="209" y="650" width="1.3" height="1.3"/><rect x="211" y="653" width="1.3" height="1.3"/><rect x="212" y="668" width="1.3" height="1.3"/><rect x="220" y="650" width="1.3" height="1.3"/><rect x="227" y="645" width="1.3" height="1.3"/><rect x="228" y="648" width="1.3" height="1.3"/><rect x="225" y="653" width="1.3" height="1.3"/><rect x="227" y="655" width="1.3" height="1.3"/><rect x="226" y="658" width="1.3" height="1.3"/><rect x="223" y="663" width="1.3" height="1.3"/><rect x="225" y="668" width="1.3" height="1.3"/><rect x="232" y="645" width="1.3" height="1.3"/><rect x="234" y="668" width="1.3" height="1.3"/><rect x="235" y="653" width="1.3" height="1.3"/><rect x="241" y="653" width="1.3" height="1.3"/><rect x="242" y="645" width="1.3" height="1.3"/><rect x="243" y="665" width="1.3" height="1.3"/><rect x="242" y="645" width="1.3" height="1.3"/><rect x="241" y="652" width="1.3" height="1.3"/><rect x="247" y="650" width="1.3" height="1.3"/><rect x="243" y="665" width="1.3" height="1.3"/><rect x="266" y="647" width="1.3" height="1.3"/><rect x="274" y="645" width="1.3" height="1.3"/><rect x="270" y="652" width="1.3" height="1.3"/><rect x="277" y="657" width="1.3" height="1.3"/><rect x="281" y="660" width="1.3" height="1.3"/><rect x="288" y="662" width="1.3" height="1.3"/><rect x="287" y="673" width="1.3" height="1.3"/><rect x="297" y="655" width="1.3" height="1.3"/><rect x="301" y="670" width="1.3" height="1.3"/><rect x="310" y="647" width="1.3" height="1.3"/><rect x="309" y="650" width="1.3" height="1.3"/><rect x="311" y="668" width="1.3" height="1.3"/><rect x="322" y="652" width="1.3" height="1.3"/><rect x="332" y="645" width="1.3" height="1.3"/><rect x="341" y="657" width="1.3" height="1.3"/></g>
<path d="M72.6,693.5 H76.2 V784 H367.5 M72.6,784 H76.2" stroke="#000" stroke-width="1.7" fill="none" />
<path d="M77.4,784 V787.5 M137,784 V787.5 M210.6,784 V787.5 M284.4,784 V787.5" stroke="#000" stroke-width="1.5" fill="none" />
<text x="71.60" y="698.20" font-size="13.6" text-anchor="end" font-weight="normal" fill="#000" >20</text>
<text x="71.60" y="788.60" font-size="13.6" text-anchor="end" font-weight="normal" fill="#000" >0</text>
<text x="77.40" y="801.50" font-size="13.6" text-anchor="middle" font-weight="normal" fill="#000" >-0.1</text>
<text x="137.00" y="801.50" font-size="13.6" text-anchor="middle" font-weight="normal" fill="#000" >0</text>
<text x="210.80" y="801.40" font-size="13.6" text-anchor="middle" font-weight="normal" fill="#000" >0.1</text>
<text x="284.50" y="801.40" font-size="13.6" text-anchor="middle" font-weight="normal" fill="#000" >0.2</text>
<text x="222.20" y="817.90" font-size="13.6" text-anchor="middle" font-weight="bold" fill="#000" >Time (s)</text>
<text x="53.80" y="738.40" font-size="13.6" text-anchor="middle" font-weight="normal" fill="#000" transform="rotate(-90 53.8 738.4)" >Spike count</text>
<rect x="137.00" y="708.40" width="7.36" height="74.80" fill="#000" stroke="#444" stroke-width="0.5"/><rect x="144.36" y="696.10" width="7.36" height="87.10" fill="#000" stroke="#444" stroke-width="0.5"/><rect x="151.72" y="746.60" width="7.36" height="36.60" fill="#000" stroke="#444" stroke-width="0.5"/><rect x="159.08" y="758.50" width="7.36" height="24.70" fill="#000" stroke="#444" stroke-width="0.5"/><rect x="166.44" y="776.00" width="7.36" height="7.20" fill="#000" stroke="#444" stroke-width="0.5"/><rect x="173.80" y="771.60" width="7.36" height="11.60" fill="#000" stroke="#444" stroke-width="0.5"/><rect x="188.52" y="767.20" width="7.36" height="16.00" fill="#000" stroke="#444" stroke-width="0.5"/><rect x="195.88" y="767.20" width="7.36" height="16.00" fill="#000" stroke="#444" stroke-width="0.5"/><rect x="203.24" y="767.20" width="7.36" height="16.00" fill="#000" stroke="#444" stroke-width="0.5"/><rect x="210.60" y="755.00" width="7.36" height="28.20" fill="#000" stroke="#444" stroke-width="0.5"/><rect x="217.96" y="755.00" width="7.36" height="28.20" fill="#000" stroke="#444" stroke-width="0.5"/><rect x="225.32" y="730.00" width="7.36" height="53.20" fill="#000" stroke="#444" stroke-width="0.5"/><rect x="232.68" y="746.60" width="7.36" height="36.60" fill="#000" stroke="#444" stroke-width="0.5"/><rect x="240.04" y="738.00" width="7.36" height="45.20" fill="#000" stroke="#444" stroke-width="0.5"/><rect x="247.40" y="742.20" width="7.36" height="41.00" fill="#000" stroke="#444" stroke-width="0.5"/><rect x="254.76" y="775.80" width="7.36" height="7.40" fill="#000" stroke="#444" stroke-width="0.5"/><rect x="284.20" y="771.50" width="7.36" height="11.70" fill="#000" stroke="#444" stroke-width="0.5"/><rect x="291.56" y="767.30" width="7.36" height="15.90" fill="#000" stroke="#444" stroke-width="0.5"/><rect x="313.64" y="771.70" width="7.36" height="11.50" fill="#000" stroke="#444" stroke-width="0.5"/><rect x="335.72" y="779.60" width="7.36" height="3.60" fill="#000" stroke="#444" stroke-width="0.5"/><rect x="350.44" y="775.80" width="7.36" height="7.40" fill="#000" stroke="#444" stroke-width="0.5"/><rect x="107.56" y="780.00" width="7.36" height="3.20" fill="#dc64dc" stroke="#c828c8" stroke-width="0.6"/><rect x="114.92" y="780.00" width="7.36" height="3.20" fill="#dc64dc" stroke="#c828c8" stroke-width="0.6"/><rect x="122.28" y="780.00" width="7.36" height="3.20" fill="#dc64dc" stroke="#c828c8" stroke-width="0.6"/><rect x="137.00" y="720.60" width="7.36" height="62.60" fill="#dc64dc" stroke="#c828c8" stroke-width="0.6"/><rect x="144.36" y="758.50" width="7.36" height="24.70" fill="#dc64dc" stroke="#c828c8" stroke-width="0.6"/><rect x="151.72" y="771.10" width="7.36" height="12.10" fill="#dc64dc" stroke="#c828c8" stroke-width="0.6"/><rect x="159.08" y="758.50" width="7.36" height="24.70" fill="#dc64dc" stroke="#c828c8" stroke-width="0.6"/><rect x="181.16" y="779.90" width="7.36" height="3.30" fill="#dc64dc" stroke="#c828c8" stroke-width="0.6"/><rect x="195.88" y="779.90" width="7.36" height="3.30" fill="#dc64dc" stroke="#c828c8" stroke-width="0.6"/><rect x="203.24" y="779.90" width="7.36" height="3.30" fill="#dc64dc" stroke="#c828c8" stroke-width="0.6"/><rect x="210.60" y="767.10" width="7.36" height="16.10" fill="#dc64dc" stroke="#c828c8" stroke-width="0.6"/><rect x="217.96" y="779.90" width="7.36" height="3.30" fill="#dc64dc" stroke="#c828c8" stroke-width="0.6"/><rect x="225.32" y="754.50" width="7.36" height="28.70" fill="#dc64dc" stroke="#c828c8" stroke-width="0.6"/><rect x="232.68" y="771.10" width="7.36" height="12.10" fill="#dc64dc" stroke="#c828c8" stroke-width="0.6"/><rect x="240.04" y="771.10" width="7.36" height="12.10" fill="#dc64dc" stroke="#c828c8" stroke-width="0.6"/><rect x="247.40" y="779.60" width="7.36" height="3.60" fill="#dc64dc" stroke="#c828c8" stroke-width="0.6"/><rect x="262.12" y="779.60" width="7.36" height="3.60" fill="#dc64dc" stroke="#c828c8" stroke-width="0.6"/><rect x="269.48" y="775.30" width="7.36" height="7.90" fill="#dc64dc" stroke="#c828c8" stroke-width="0.6"/><rect x="276.84" y="775.30" width="7.36" height="7.90" fill="#dc64dc" stroke="#c828c8" stroke-width="0.6"/><rect x="284.20" y="775.30" width="7.36" height="7.90" fill="#dc64dc" stroke="#c828c8" stroke-width="0.6"/><rect x="298.92" y="775.30" width="7.36" height="7.90" fill="#dc64dc" stroke="#c828c8" stroke-width="0.6"/><rect x="306.28" y="775.30" width="7.36" height="7.90" fill="#dc64dc" stroke="#c828c8" stroke-width="0.6"/><rect x="313.64" y="779.60" width="7.36" height="3.60" fill="#dc64dc" stroke="#c828c8" stroke-width="0.6"/><rect x="321.00" y="779.60" width="7.36" height="3.60" fill="#dc64dc" stroke="#c828c8" stroke-width="0.6"/><rect x="328.36" y="779.60" width="7.36" height="3.60" fill="#dc64dc" stroke="#c828c8" stroke-width="0.6"/><rect x="343.08" y="779.60" width="7.36" height="3.60" fill="#dc64dc" stroke="#c828c8" stroke-width="0.6"/>
<rect x="271.9" y="694.8" width="6" height="5.2" fill="#000"/>
<rect x="271.9" y="708.4" width="6" height="5.2" fill="#dc64dc"/>
<text x="282.80" y="700.00" font-size="13.6" text-anchor="start" font-weight="normal" fill="#000" >pre-illumination</text>
<text x="282.80" y="713.80" font-size="13.6" text-anchor="start" font-weight="normal" fill="#c000c0" >post-365 nm</text>
<text x="435.00" y="584.50" font-size="27" text-anchor="start" font-weight="bold" fill="#000" >h</text>
<path d="M492.6,610.3 H496.7 V784 M492.6,697.1 H496.7" stroke="#000" stroke-width="1.6" fill="none" />
<path d="M496.7,784 H685" stroke="#000" stroke-width="2" fill="none" />
<path d="M496.70,784 V788.4 M555.30,784 V788.4 M613.90,784 V788.4 M672.50,784 V788.4" stroke="#000" stroke-width="1.6" fill="none" />
<text x="488.80" y="615.00" font-size="13.6" text-anchor="end" font-weight="normal" fill="#000" >8</text>
<text x="488.80" y="701.80" font-size="13.6" text-anchor="end" font-weight="normal" fill="#000" >4</text>
<text x="496.70" y="800.00" font-size="13.6" text-anchor="middle" font-weight="normal" fill="#000" >0</text>
<text x="555.30" y="800.00" font-size="13.6" text-anchor="middle" font-weight="normal" fill="#000" >1</text>
<text x="613.90" y="800.00" font-size="13.6" text-anchor="middle" font-weight="normal" fill="#000" >2</text>
<text x="672.50" y="800.00" font-size="13.6" text-anchor="middle" font-weight="normal" fill="#000" >3</text>
<text x="590.30" y="817.30" font-size="13.6" text-anchor="middle" font-weight="bold" fill="#000" >Stimulation intensity (mA)</text>
<text x="460.30" y="695.00" font-size="13.6" text-anchor="middle" font-weight="bold" fill="#000" transform="rotate(-90 460.3 695)" >C response</text>
<text x="476.10" y="695.00" font-size="13.6" text-anchor="middle" font-weight="bold" fill="#000" transform="rotate(-90 476.1 695)" >(number of action potentials)</text>
<path d="M516.9,592.3 V610.3" stroke="#000" stroke-width="1.6" fill="none" />
<circle cx="516.9" cy="601.4" r="5" fill="#000"/>
<path d="M516.9,616 V634" stroke="#c000c0" stroke-width="1.6" fill="none" />
<circle cx="516.9" cy="624.9" r="5" fill="#c000c0"/>
<text x="532.60" y="606.30" font-size="13.6" text-anchor="start" font-weight="normal" fill="#000" >pre-illumination (10)</text>
<text x="532.60" y="629.90" font-size="13.6" text-anchor="start" font-weight="normal" fill="#000" >post-365 nm (10)</text>
<circle cx="508.42" cy="779.5" r="5" fill="#000"/>
<path d="M526.00,738 V758" stroke="#000" stroke-width="1.6" fill="none" />
<circle cx="526.00" cy="748.3" r="5" fill="#000"/>
<path d="M555.30,661.5 V711.4" stroke="#000" stroke-width="1.6" fill="none" />
<circle cx="555.30" cy="686.4" r="5" fill="#000"/>
<path d="M613.90,655.7 V707" stroke="#000" stroke-width="1.6" fill="none" />
<circle cx="613.90" cy="681.1" r="5" fill="#000"/>
<path d="M672.50,605.4 V652.6" stroke="#000" stroke-width="1.6" fill="none" />
<circle cx="672.50" cy="629" r="5" fill="#000"/>
<circle cx="508.42" cy="781.3" r="5" fill="#c000c0"/>
<circle cx="526.00" cy="775.5" r="5" fill="#c000c0"/>
<path d="M555.30,732.7 V755" stroke="#c000c0" stroke-width="1.6" fill="none" />
<circle cx="555.30" cy="743.9" r="5" fill="#c000c0"/>
<path d="M613.90,732.7 V759.5" stroke="#c000c0" stroke-width="1.6" fill="none" />
<circle cx="613.90" cy="746.1" r="5" fill="#c000c0"/>
<path d="M672.50,697.1 V732.3" stroke="#c000c0" stroke-width="1.6" fill="none" />
<circle cx="672.50" cy="714.5" r="5" fill="#c000c0"/>
<text x="555.30" y="659.00" font-size="11" text-anchor="middle" font-weight="normal" fill="#000" >*</text>
<text x="613.90" y="653.20" font-size="11" text-anchor="middle" font-weight="normal" fill="#000" >*</text>
<text x="672.50" y="603.50" font-size="11" text-anchor="middle" font-weight="normal" fill="#000" >**</text>

</svg>
</body></html>
